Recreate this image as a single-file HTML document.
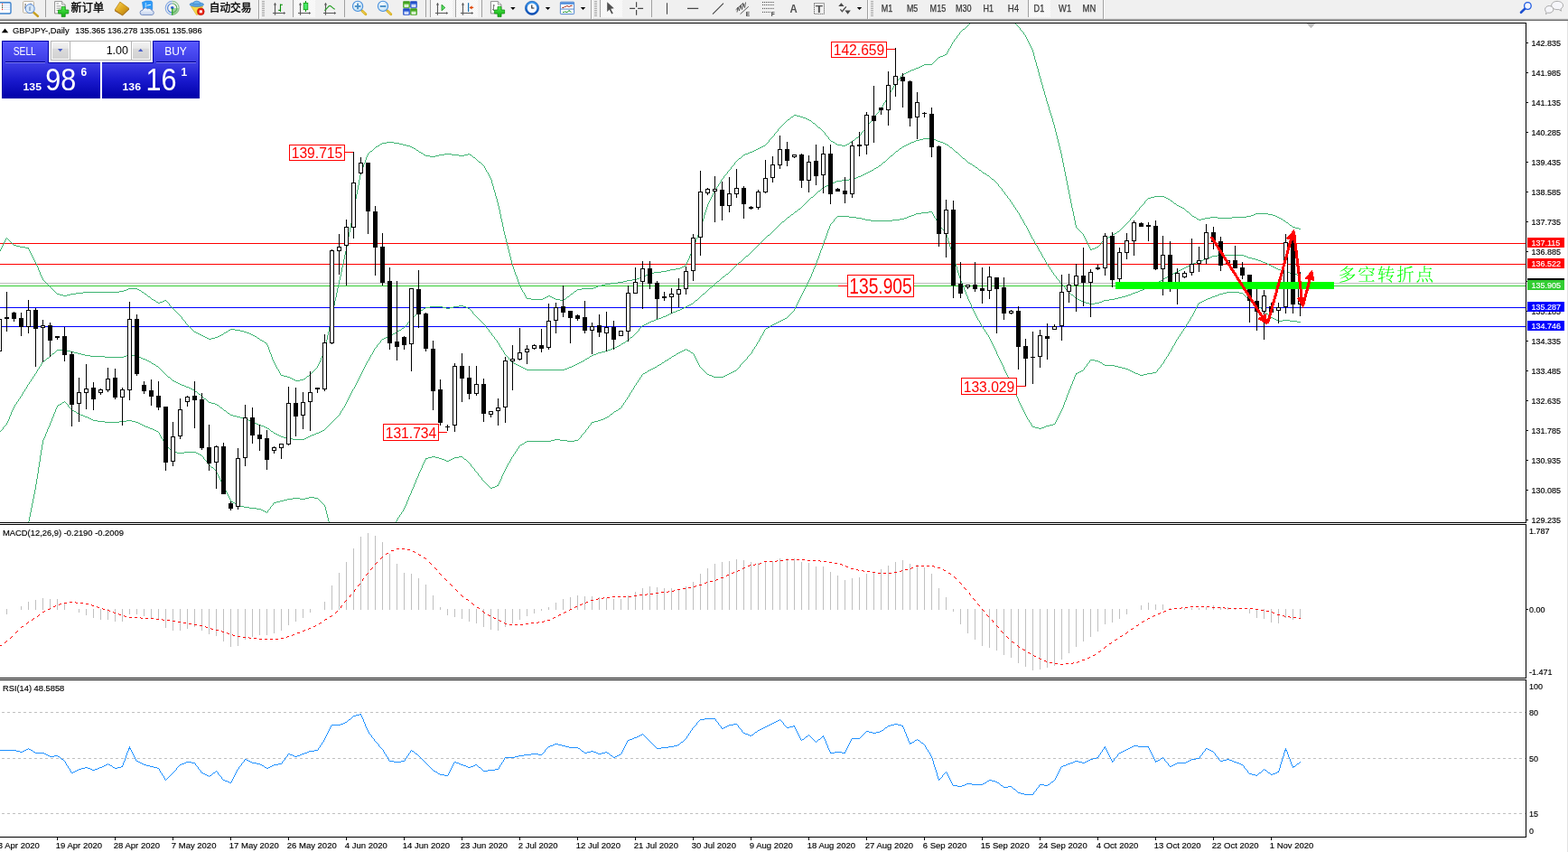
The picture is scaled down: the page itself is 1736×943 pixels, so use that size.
<!DOCTYPE html>
<html><head><meta charset="utf-8"><title>GBPJPY Daily</title>
<style>
html,body{margin:0;padding:0;background:#fff;overflow:hidden;width:1736px;height:943px}
svg{display:block;font-family:"Liberation Sans","Noto Sans CJK SC",sans-serif}
</style></head><body>
<svg width="1736" height="943" viewBox="0 0 1736 943">
<rect width="1736" height="943" fill="#fff"/>
<g shape-rendering="crispEdges"><clipPath id="c1"><rect x="0" y="26" width="1689" height="552"/></clipPath><clipPath id="c2"><rect x="0" y="581" width="1689" height="169"/></clipPath><clipPath id="c3"><rect x="0" y="753" width="1689" height="173"/></clipPath><g clip-path="url(#c1)"><rect x="0" y="313" width="1689" height="1" fill="#C0C0C0"/><rect x="0" y="316" width="1689" height="1" fill="#32CD32"/><rect x="0" y="269" width="1689" height="1" fill="#FF0000"/><rect x="0" y="292" width="1689" height="1" fill="#FF0000"/><rect x="0" y="340" width="1689" height="1" fill="#0000FF"/><rect x="0" y="361" width="1689" height="1" fill="#0000FF"/><path d="M-1 278h1v1h-1zM0 276h1v2h-1zM1 274h1v2h-1zM2 272h1v2h-1zM3 270h1v2h-1zM4 268h1v2h-1zM5 266h1v2h-1zM6 264h1v2h-1zM7 263h1v1h-1zM8 264h1v1h-1zM9 265h1v1h-1zM10 266h1v1h-1zM11 267h1v1h-1zM12 268h1v1h-1zM13 269h1v1h-1zM14 270h1v1h-1zM15 271h3v1h-3zM18 272h4v1h-4zM22 273h6v1h-6zM28 274h4v1h-4zM31 275h1v1h-1zM32 276h1v2h-1zM33 278h1v2h-1zM34 280h1v2h-1zM35 282h1v2h-1zM36 284h1v2h-1zM37 286h1v2h-1zM38 288h1v2h-1zM39 290h1v2h-1zM40 292h1v2h-1zM41 294h1v2h-1zM42 296h1v3h-1zM43 299h1v2h-1zM44 301h1v3h-1zM45 304h1v2h-1zM46 306h1v2h-1zM47 308h1v2h-1zM48 310h1v1h-1zM49 311h1v1h-1zM50 312h1v1h-1zM51 313h1v1h-1zM52 314h1v1h-1zM53 315h1v1h-1zM54 316h1v1h-1zM55 317h1v1h-1zM56 318h1v1h-1zM57 319h1v1h-1zM58 320h1v1h-1zM59 321h1v1h-1zM60 322h1v1h-1zM61 323h1v1h-1zM62 324h1v1h-1zM63 325h3v1h-3zM66 326h4v1h-4zM70 327h4v1h-4zM74 326h4v1h-4zM78 325h6v1h-6zM84 324h8v1h-8zM92 323h40v1h-40zM132 322h5v1h-5zM137 321h3v1h-3zM140 320h2v1h-2zM142 319h10v1h-10zM152 320h2v1h-2zM154 321h2v1h-2zM156 322h1v1h-1zM157 323h2v1h-2zM159 324h1v1h-1zM160 325h2v1h-2zM162 326h1v1h-1zM163 327h1v1h-1zM164 328h2v1h-2zM166 329h1v1h-1zM167 330h1v1h-1zM168 331h2v1h-2zM170 332h2v1h-2zM172 333h1v1h-1zM173 334h2v1h-2zM175 335h2v1h-2zM177 334h3v1h-3zM180 333h2v1h-2zM182 332h2v1h-2zM184 333h1v1h-1zM185 334h1v1h-1zM186 335h1v1h-1zM187 336h1v2h-1zM188 338h1v1h-1zM189 339h1v1h-1zM190 340h1v1h-1zM191 341h1v1h-1zM192 342h1v1h-1zM193 343h1v1h-1zM194 344h1v1h-1zM195 345h1v1h-1zM196 346h1v1h-1zM197 347h1v1h-1zM198 348h1v1h-1zM199 349h1v1h-1zM200 350h1v1h-1zM201 351h1v2h-1zM202 353h1v1h-1zM203 354h1v1h-1zM204 355h1v1h-1zM205 356h1v2h-1zM206 358h1v1h-1zM207 359h1v1h-1zM208 360h1v1h-1zM209 361h1v1h-1zM210 362h1v1h-1zM211 363h1v1h-1zM212 364h1v1h-1zM213 365h1v1h-1zM214 366h1v1h-1zM215 367h2v1h-2zM217 368h2v1h-2zM219 369h2v1h-2zM221 370h2v1h-2zM223 371h2v1h-2zM225 372h2v1h-2zM227 373h2v1h-2zM229 374h2v1h-2zM231 375h3v1h-3zM234 374h4v1h-4zM238 373h3v1h-3zM241 372h2v1h-2zM243 371h2v1h-2zM245 370h2v1h-2zM247 369h1v1h-1zM248 368h2v1h-2zM250 367h2v1h-2zM252 366h1v1h-1zM253 365h2v1h-2zM255 364h5v1h-5zM260 365h6v1h-6zM266 366h4v1h-4zM270 367h3v1h-3zM273 368h3v1h-3zM276 369h2v1h-2zM278 370h2v1h-2zM280 371h2v1h-2zM282 372h2v1h-2zM284 373h1v1h-1zM285 374h2v1h-2zM287 375h1v1h-1zM288 376h2v1h-2zM290 377h2v1h-2zM292 378h1v1h-1zM293 379h2v1h-2zM295 380h1v2h-1zM296 382h1v2h-1zM297 384h1v3h-1zM298 387h1v3h-1zM299 390h1v2h-1zM300 392h1v3h-1zM301 395h1v3h-1zM302 398h1v2h-1zM303 400h1v2h-1zM304 402h1v2h-1zM305 404h1v2h-1zM306 406h1v2h-1zM307 408h1v1h-1zM308 409h1v2h-1zM309 411h1v2h-1zM310 413h1v2h-1zM311 415h3v1h-3zM314 416h4v1h-4zM318 417h3v1h-3zM321 418h2v1h-2zM323 419h2v1h-2zM325 420h2v1h-2zM327 421h5v1h-5zM332 420h4v1h-4zM336 419h2v1h-2zM338 418h1v1h-1zM339 417h1v1h-1zM340 416h2v1h-2zM342 415h1v1h-1zM343 414h1v1h-1zM344 413h1v1h-1zM345 412h1v1h-1zM346 411h1v1h-1zM347 410h1v1h-1zM348 409h1v1h-1zM349 408h1v1h-1zM350 407h1v1h-1zM351 405h1v2h-1zM352 403h1v2h-1zM353 401h1v2h-1zM354 399h1v2h-1zM355 396h1v3h-1zM356 394h1v2h-1zM357 392h1v2h-1zM358 390h1v2h-1zM359 386h1v4h-1zM360 381h1v5h-1zM361 376h1v5h-1zM362 371h1v5h-1zM363 367h1v4h-1zM364 362h1v5h-1zM365 357h1v5h-1zM366 352h1v5h-1zM367 347h1v5h-1zM368 343h1v4h-1zM369 338h1v5h-1zM370 333h1v5h-1zM371 329h1v4h-1zM372 324h1v5h-1zM373 319h1v5h-1zM374 315h1v4h-1zM375 310h1v5h-1zM376 306h1v4h-1zM377 301h1v5h-1zM378 296h1v5h-1zM379 292h1v4h-1zM380 287h1v5h-1zM381 282h1v5h-1zM382 278h1v4h-1zM383 273h1v5h-1zM384 268h1v5h-1zM385 262h1v6h-1zM386 257h1v5h-1zM387 252h1v5h-1zM388 247h1v5h-1zM389 241h1v6h-1zM390 236h1v5h-1zM391 231h1v5h-1zM392 226h1v5h-1zM393 220h1v6h-1zM394 215h1v5h-1zM395 210h1v5h-1zM396 205h1v5h-1zM397 199h1v6h-1zM398 194h1v5h-1zM399 190h1v4h-1zM400 188h1v2h-1zM401 185h1v3h-1zM402 182h1v3h-1zM403 180h1v2h-1zM404 177h1v3h-1zM405 174h1v3h-1zM406 172h1v2h-1zM407 170h1v2h-1zM408 169h1v1h-1zM409 168h1v1h-1zM410 167h2v1h-2zM412 166h1v1h-1zM413 165h1v1h-1zM414 164h1v1h-1zM415 163h1v1h-1zM416 162h2v1h-2zM418 161h2v1h-2zM420 160h1v1h-1zM421 159h2v1h-2zM423 158h5v1h-5zM428 157h8v1h-8zM436 158h6v1h-6zM442 159h4v1h-4zM446 160h4v1h-4zM450 161h4v1h-4zM454 162h2v1h-2zM456 163h2v1h-2zM458 164h2v1h-2zM460 165h1v1h-1zM461 166h2v1h-2zM463 167h1v1h-1zM464 168h2v1h-2zM466 169h2v1h-2zM468 170h1v1h-1zM469 171h2v1h-2zM471 172h5v1h-5zM476 173h6v1h-6zM482 172h4v1h-4zM486 171h6v1h-6zM492 170h8v1h-8zM500 171h8v1h-8zM508 172h6v1h-6zM514 171h4v1h-4zM518 170h2v1h-2zM520 171h2v1h-2zM522 172h1v1h-1zM523 173h1v1h-1zM524 174h2v1h-2zM526 175h1v1h-1zM527 176h1v1h-1zM528 177h1v1h-1zM529 178h1v1h-1zM530 179h2v1h-2zM532 180h1v1h-1zM533 181h1v1h-1zM534 182h1v1h-1zM535 183h1v1h-1zM536 184h1v2h-1zM537 186h1v2h-1zM538 188h1v2h-1zM539 190h1v1h-1zM540 191h1v2h-1zM541 193h1v2h-1zM542 195h1v2h-1zM543 197h1v2h-1zM544 199h1v4h-1zM545 203h1v3h-1zM546 206h1v4h-1zM547 210h1v3h-1zM548 213h1v4h-1zM549 217h1v3h-1zM550 220h1v4h-1zM551 224h1v4h-1zM552 228h1v4h-1zM553 232h1v5h-1zM554 237h1v5h-1zM555 242h1v4h-1zM556 246h1v5h-1zM557 251h1v5h-1zM558 256h1v4h-1zM559 260h1v4h-1zM560 264h1v4h-1zM561 268h1v4h-1zM562 272h1v4h-1zM563 276h1v4h-1zM564 280h1v4h-1zM565 284h1v4h-1zM566 288h1v4h-1zM567 292h1v3h-1zM568 295h1v3h-1zM569 298h1v3h-1zM570 301h1v3h-1zM571 304h1v2h-1zM572 306h1v3h-1zM573 309h1v3h-1zM574 312h1v3h-1zM575 315h1v2h-1zM576 317h1v2h-1zM577 319h1v2h-1zM578 321h1v2h-1zM579 323h1v1h-1zM580 324h1v2h-1zM581 326h1v2h-1zM582 328h1v2h-1zM583 330h5v1h-5zM588 331h13v1h-13zM601 330h2v1h-2zM603 329h2v1h-2zM605 328h2v1h-2zM607 327h2v1h-2zM609 328h2v1h-2zM611 329h2v1h-2zM613 330h2v1h-2zM615 331h5v1h-5zM620 332h4v1h-4zM624 331h2v1h-2zM626 330h1v1h-1zM627 329h1v1h-1zM628 328h2v1h-2zM630 327h1v1h-1zM631 326h1v1h-1zM632 325h2v1h-2zM634 324h1v1h-1zM635 323h1v1h-1zM636 322h2v1h-2zM638 321h1v1h-1zM639 320h5v1h-5zM644 319h13v1h-13zM657 318h3v1h-3zM660 317h2v1h-2zM662 316h4v1h-4zM666 315h4v1h-4zM670 314h6v1h-6zM676 313h8v1h-8zM684 312h6v1h-6zM690 311h4v1h-4zM694 310h6v1h-6zM700 309h5v1h-5zM705 308h3v1h-3zM708 307h2v1h-2zM710 306h3v1h-3zM713 305h2v1h-2zM715 304h2v1h-2zM717 303h2v1h-2zM719 302h5v1h-5zM724 301h8v1h-8zM732 300h6v1h-6zM738 299h4v1h-4zM742 298h6v1h-6zM748 297h5v1h-5zM753 296h2v1h-2zM755 295h2v1h-2zM757 294h2v1h-2zM759 292h1v2h-1zM760 290h1v2h-1zM761 288h1v2h-1zM762 286h1v2h-1zM763 283h1v3h-1zM764 281h1v2h-1zM765 279h1v2h-1zM766 277h1v2h-1zM767 274h1v3h-1zM768 271h1v3h-1zM769 268h1v3h-1zM770 265h1v3h-1zM771 263h1v2h-1zM772 260h1v3h-1zM773 257h1v3h-1zM774 254h1v3h-1zM775 251h1v3h-1zM776 248h1v3h-1zM777 245h1v3h-1zM778 242h1v3h-1zM779 238h1v4h-1zM780 235h1v3h-1zM781 232h1v3h-1zM782 229h1v3h-1zM783 226h1v3h-1zM784 224h1v2h-1zM785 222h1v2h-1zM786 220h1v2h-1zM787 218h1v2h-1zM788 216h1v2h-1zM789 214h1v2h-1zM790 212h1v2h-1zM791 211h1v1h-1zM792 209h1v2h-1zM793 207h1v2h-1zM794 206h1v1h-1zM795 204h1v2h-1zM796 203h1v1h-1zM797 201h1v2h-1zM798 199h1v2h-1zM799 198h1v1h-1zM800 197h1v1h-1zM801 195h1v2h-1zM802 194h1v1h-1zM803 193h1v1h-1zM804 192h1v1h-1zM805 190h1v2h-1zM806 189h1v1h-1zM807 188h1v1h-1zM808 187h1v1h-1zM809 185h1v2h-1zM810 184h1v1h-1zM811 183h1v1h-1zM812 182h1v1h-1zM813 180h1v2h-1zM814 179h1v1h-1zM815 178h1v1h-1zM816 177h1v1h-1zM817 176h1v1h-1zM818 175h2v1h-2zM820 174h1v1h-1zM821 173h1v1h-1zM822 172h1v1h-1zM823 171h2v1h-2zM825 170h3v1h-3zM828 169h2v1h-2zM830 168h3v1h-3zM833 167h2v1h-2zM835 166h2v1h-2zM837 165h2v1h-2zM839 164h2v1h-2zM841 163h2v1h-2zM843 162h2v1h-2zM845 161h2v1h-2zM847 160h1v1h-1zM848 159h1v1h-1zM849 158h1v1h-1zM850 157h1v1h-1zM851 155h1v2h-1zM852 154h1v1h-1zM853 153h1v1h-1zM854 152h1v1h-1zM855 151h1v1h-1zM856 150h1v1h-1zM857 148h1v2h-1zM858 147h1v1h-1zM859 146h1v1h-1zM860 145h1v1h-1zM861 143h1v2h-1zM862 142h1v1h-1zM863 141h1v1h-1zM864 140h1v1h-1zM865 139h1v1h-1zM866 138h1v1h-1zM867 137h1v1h-1zM868 136h1v1h-1zM869 135h1v1h-1zM870 134h1v1h-1zM871 133h1v1h-1zM872 132h2v1h-2zM874 131h1v1h-1zM875 130h1v1h-1zM876 129h2v1h-2zM878 128h1v1h-1zM879 127h3v1h-3zM882 128h4v1h-4zM886 129h3v1h-3zM889 130h3v1h-3zM892 131h2v1h-2zM894 132h2v1h-2zM896 133h2v1h-2zM898 134h1v1h-1zM899 135h1v1h-1zM900 136h2v1h-2zM902 137h1v1h-1zM903 138h1v1h-1zM904 139h1v1h-1zM905 140h1v1h-1zM906 141h2v1h-2zM908 142h1v1h-1zM909 143h1v1h-1zM910 144h1v1h-1zM911 145h1v1h-1zM912 146h1v1h-1zM913 147h1v2h-1zM914 149h1v1h-1zM915 150h1v1h-1zM916 151h1v1h-1zM917 152h1v2h-1zM918 154h1v1h-1zM919 155h1v1h-1zM920 156h2v1h-2zM922 157h2v1h-2zM924 158h1v1h-1zM925 159h2v1h-2zM927 160h5v1h-5zM932 161h4v1h-4zM936 160h2v1h-2zM938 159h2v1h-2zM940 158h1v1h-1zM941 157h2v1h-2zM943 156h1v1h-1zM944 155h2v1h-2zM946 154h1v1h-1zM947 153h1v1h-1zM948 152h2v1h-2zM950 151h1v1h-1zM951 150h1v1h-1zM952 149h1v1h-1zM953 147h1v2h-1zM954 146h1v1h-1zM955 145h1v1h-1zM956 144h1v1h-1zM957 142h1v2h-1zM958 141h1v1h-1zM959 140h1v1h-1zM960 139h1v1h-1zM961 137h1v2h-1zM962 136h1v1h-1zM963 135h1v1h-1zM964 134h1v1h-1zM965 132h1v2h-1zM966 131h1v1h-1zM967 130h1v1h-1zM968 129h1v1h-1zM969 127h1v2h-1zM970 126h1v1h-1zM971 125h1v1h-1zM972 124h1v1h-1zM973 122h1v2h-1zM974 121h1v1h-1zM975 120h1v1h-1zM976 118h1v2h-1zM977 116h1v2h-1zM978 114h1v2h-1zM979 113h1v1h-1zM980 111h1v2h-1zM981 109h1v2h-1zM982 107h1v2h-1zM983 106h1v1h-1zM984 104h1v2h-1zM985 102h1v2h-1zM986 100h1v2h-1zM987 99h1v1h-1zM988 97h1v2h-1zM989 95h1v2h-1zM990 93h1v2h-1zM991 92h1v1h-1zM992 91h1v1h-1zM993 89h1v2h-1zM994 88h1v1h-1zM995 87h1v1h-1zM996 86h1v1h-1zM997 84h1v2h-1zM998 83h1v1h-1zM999 82h2v1h-2zM1001 81h2v1h-2zM1003 80h2v1h-2zM1005 79h2v1h-2zM1007 78h2v1h-2zM1009 77h3v1h-3zM1012 76h2v1h-2zM1014 75h3v1h-3zM1017 74h2v1h-2zM1019 73h2v1h-2zM1021 72h2v1h-2zM1023 71h9v1h-9zM1032 70h1v1h-1zM1033 69h1v1h-1zM1034 68h1v1h-1zM1035 67h1v1h-1zM1036 66h1v1h-1zM1037 65h1v1h-1zM1038 64h1v1h-1zM1039 63h2v1h-2zM1041 62h3v1h-3zM1044 61h2v1h-2zM1046 60h2v1h-2zM1048 58h1v2h-1zM1049 56h1v2h-1zM1050 54h1v2h-1zM1051 53h1v1h-1zM1052 51h1v2h-1zM1053 49h1v2h-1zM1054 47h1v2h-1zM1055 46h1v1h-1zM1056 44h1v2h-1zM1057 43h1v1h-1zM1058 42h1v1h-1zM1059 40h1v2h-1zM1060 39h1v1h-1zM1061 38h1v1h-1zM1062 36h1v2h-1zM1063 35h1v1h-1zM1064 34h1v1h-1zM1065 33h1v1h-1zM1066 32h2v1h-2zM1068 31h1v1h-1zM1069 30h1v1h-1zM1070 29h1v1h-1zM1071 28h1v1h-1zM1072 27h1v1h-1zM1073 26h1v1h-1zM1074 25h2v1h-2zM1076 24h1v1h-1zM1077 23h1v1h-1zM1078 22h1v1h-1zM1079 21h1v1h-1zM1080 20h1v1h-1zM1118 20h1v1h-1zM1119 21h1v1h-1zM1120 22h1v1h-1zM1121 23h1v1h-1zM1122 24h1v1h-1zM1123 25h1v1h-1zM1124 26h1v1h-1zM1125 27h1v1h-1zM1126 28h1v1h-1zM1127 29h1v1h-1zM1128 30h1v1h-1zM1129 31h1v2h-1zM1130 33h1v1h-1zM1131 34h1v1h-1zM1132 35h1v1h-1zM1133 36h1v2h-1zM1134 38h1v1h-1zM1135 39h1v2h-1zM1136 41h1v2h-1zM1137 43h1v2h-1zM1138 45h1v2h-1zM1139 47h1v2h-1zM1140 49h1v2h-1zM1141 51h1v2h-1zM1142 53h1v2h-1zM1143 55h1v3h-1zM1144 58h1v4h-1zM1145 62h1v4h-1zM1146 66h1v3h-1zM1147 69h1v4h-1zM1148 73h1v3h-1zM1149 76h1v4h-1zM1150 80h1v4h-1zM1151 84h1v3h-1zM1152 87h1v4h-1zM1153 91h1v3h-1zM1154 94h1v4h-1zM1155 98h1v3h-1zM1156 101h1v4h-1zM1157 105h1v3h-1zM1158 108h1v4h-1zM1159 112h1v3h-1zM1160 115h1v3h-1zM1161 118h1v4h-1zM1162 122h1v3h-1zM1163 125h1v3h-1zM1164 128h1v3h-1zM1165 131h1v4h-1zM1166 135h1v3h-1zM1167 138h1v4h-1zM1168 142h1v4h-1zM1169 146h1v4h-1zM1170 150h1v4h-1zM1171 154h1v4h-1zM1172 158h1v4h-1zM1173 162h1v4h-1zM1174 166h1v4h-1zM1175 170h1v5h-1zM1176 175h1v5h-1zM1177 180h1v5h-1zM1178 185h1v5h-1zM1179 190h1v5h-1zM1180 195h1v5h-1zM1181 200h1v5h-1zM1182 205h1v5h-1zM1183 210h1v5h-1zM1184 215h1v5h-1zM1185 220h1v5h-1zM1186 225h1v5h-1zM1187 230h1v4h-1zM1188 234h1v5h-1zM1189 239h1v5h-1zM1190 244h1v5h-1zM1191 249h1v3h-1zM1192 252h1v1h-1zM1193 253h1v1h-1zM1194 254h1v1h-1zM1195 255h1v1h-1zM1196 256h1v1h-1zM1197 257h1v1h-1zM1198 258h1v1h-1zM1199 259h1v2h-1zM1200 261h1v2h-1zM1201 263h1v2h-1zM1202 265h1v2h-1zM1203 267h1v2h-1zM1204 269h1v2h-1zM1205 271h1v2h-1zM1206 273h1v2h-1zM1207 275h1v2h-1zM1208 276h1v1h-1zM1209 275h3v1h-3zM1212 274h2v1h-2zM1214 273h2v1h-2zM1216 272h1v1h-1zM1217 271h1v1h-1zM1218 270h1v1h-1zM1219 268h1v2h-1zM1220 267h1v1h-1zM1221 266h1v1h-1zM1222 265h1v1h-1zM1223 264h2v1h-2zM1225 263h2v1h-2zM1227 262h2v1h-2zM1229 261h2v1h-2zM1231 260h1v1h-1zM1232 259h2v1h-2zM1234 258h2v1h-2zM1236 257h1v1h-1zM1237 256h2v1h-2zM1239 255h1v1h-1zM1240 254h1v1h-1zM1241 253h1v1h-1zM1242 252h1v1h-1zM1243 251h1v1h-1zM1244 250h1v1h-1zM1245 249h1v1h-1zM1246 248h1v1h-1zM1247 247h1v1h-1zM1248 246h1v1h-1zM1249 245h1v1h-1zM1250 244h1v1h-1zM1251 242h1v2h-1zM1252 241h1v1h-1zM1253 240h1v1h-1zM1254 239h1v1h-1zM1255 238h1v1h-1zM1256 237h1v1h-1zM1257 235h1v2h-1zM1258 234h1v1h-1zM1259 233h1v1h-1zM1260 232h1v1h-1zM1261 230h1v2h-1zM1262 229h1v1h-1zM1263 228h1v1h-1zM1264 227h1v1h-1zM1265 226h1v1h-1zM1266 225h1v1h-1zM1267 223h1v2h-1zM1268 222h1v1h-1zM1269 221h1v1h-1zM1270 220h1v1h-1zM1271 219h3v1h-3zM1274 218h4v1h-4zM1278 217h11v1h-11zM1289 218h2v1h-2zM1291 219h2v1h-2zM1293 220h2v1h-2zM1295 221h1v1h-1zM1296 222h2v1h-2zM1298 223h1v1h-1zM1299 224h1v1h-1zM1300 225h2v1h-2zM1302 226h1v1h-1zM1303 227h2v1h-2zM1305 228h2v1h-2zM1307 229h2v1h-2zM1309 230h2v1h-2zM1311 231h1v1h-1zM1312 232h1v1h-1zM1313 233h1v1h-1zM1314 234h2v1h-2zM1316 235h1v1h-1zM1317 236h1v1h-1zM1318 237h1v1h-1zM1319 238h1v1h-1zM1320 239h2v1h-2zM1322 240h2v1h-2zM1324 241h1v1h-1zM1325 242h2v1h-2zM1327 243h3v1h-3zM1330 242h4v1h-4zM1334 241h6v1h-6zM1340 240h8v1h-8zM1348 241h16v1h-16zM1364 240h16v1h-16zM1380 239h5v1h-5zM1385 238h3v1h-3zM1388 237h2v1h-2zM1390 236h14v1h-14zM1404 237h5v1h-5zM1409 238h3v1h-3zM1412 239h2v1h-2zM1414 240h2v1h-2zM1416 241h2v1h-2zM1418 242h2v1h-2zM1420 243h1v1h-1zM1421 244h2v1h-2zM1423 245h1v1h-1zM1424 246h2v1h-2zM1426 247h1v1h-1zM1427 248h1v1h-1zM1428 249h2v1h-2zM1430 250h1v1h-1zM1431 251h3v1h-3zM1434 252h4v1h-4zM1438 253h2v1h-2z" fill="#3CB371"/><path d="M-1 478h1v1h-1zM0 477h1v1h-1zM1 476h1v1h-1zM2 475h1v1h-1zM3 473h1v2h-1zM4 472h1v1h-1zM5 471h1v1h-1zM6 470h1v1h-1zM7 468h1v2h-1zM8 466h1v2h-1zM9 464h1v2h-1zM10 461h1v3h-1zM11 459h1v2h-1zM12 456h1v3h-1zM13 454h1v2h-1zM14 452h1v2h-1zM15 450h1v2h-1zM16 448h1v2h-1zM17 447h1v1h-1zM18 445h1v2h-1zM19 444h1v1h-1zM20 442h1v2h-1zM21 441h1v1h-1zM22 439h1v2h-1zM23 438h1v1h-1zM24 436h1v2h-1zM25 434h1v2h-1zM26 433h1v1h-1zM27 431h1v2h-1zM28 430h1v1h-1zM29 428h1v2h-1zM30 426h1v2h-1zM31 425h1v1h-1zM32 423h1v2h-1zM33 422h1v1h-1zM34 420h1v2h-1zM35 419h1v1h-1zM36 417h1v2h-1zM37 416h1v1h-1zM38 414h1v2h-1zM39 413h1v1h-1zM40 411h1v2h-1zM41 409h1v2h-1zM42 408h1v1h-1zM43 406h1v2h-1zM44 405h1v1h-1zM45 403h1v2h-1zM46 401h1v2h-1zM47 400h1v1h-1zM48 399h2v1h-2zM50 398h1v1h-1zM51 397h1v1h-1zM52 396h2v1h-2zM54 395h1v1h-1zM55 394h1v1h-1zM56 393h1v1h-1zM57 392h1v1h-1zM58 391h2v1h-2zM60 390h1v1h-1zM61 389h1v1h-1zM62 388h1v1h-1zM63 387h11v1h-11zM74 388h4v1h-4zM78 389h4v1h-4zM82 390h4v1h-4zM86 391h4v1h-4zM90 392h4v1h-4zM94 393h6v1h-6zM100 394h16v1h-16zM116 395h21v1h-21zM137 394h3v1h-3zM140 393h2v1h-2zM142 392h4v1h-4zM146 393h4v1h-4zM150 394h3v1h-3zM153 395h3v1h-3zM156 396h2v1h-2zM158 397h3v1h-3zM161 398h2v1h-2zM163 399h2v1h-2zM165 400h2v1h-2zM167 401h1v1h-1zM168 402h2v1h-2zM170 403h2v1h-2zM172 404h1v1h-1zM173 405h2v1h-2zM175 406h1v1h-1zM176 407h1v1h-1zM177 408h1v1h-1zM178 409h1v1h-1zM179 410h1v1h-1zM180 411h1v1h-1zM181 412h1v1h-1zM182 413h1v1h-1zM183 414h1v1h-1zM184 415h1v1h-1zM185 416h1v1h-1zM186 417h2v1h-2zM188 418h1v1h-1zM189 419h1v1h-1zM190 420h1v1h-1zM191 421h2v1h-2zM193 422h2v1h-2zM195 423h2v1h-2zM197 424h2v1h-2zM199 425h2v1h-2zM201 426h3v1h-3zM204 427h2v1h-2zM206 428h3v1h-3zM209 429h2v1h-2zM211 430h2v1h-2zM213 431h2v1h-2zM215 432h1v1h-1zM216 433h2v1h-2zM218 434h1v1h-1zM219 435h1v1h-1zM220 436h2v1h-2zM222 437h1v1h-1zM223 438h1v1h-1zM224 439h1v1h-1zM225 440h1v1h-1zM226 441h2v1h-2zM228 442h1v1h-1zM229 443h1v1h-1zM230 444h1v1h-1zM231 445h3v1h-3zM234 446h4v1h-4zM238 447h2v1h-2zM240 448h2v1h-2zM242 449h1v1h-1zM243 450h1v1h-1zM244 451h2v1h-2zM246 452h1v1h-1zM247 453h1v1h-1zM248 454h2v1h-2zM250 455h1v1h-1zM251 456h1v1h-1zM252 457h2v1h-2zM254 458h1v1h-1zM255 459h3v1h-3zM258 460h4v1h-4zM262 461h4v1h-4zM266 462h4v1h-4zM270 463h3v1h-3zM273 464h2v1h-2zM275 465h2v1h-2zM277 466h2v1h-2zM279 467h2v1h-2zM281 468h3v1h-3zM284 469h2v1h-2zM286 470h3v1h-3zM289 471h3v1h-3zM292 472h2v1h-2zM294 473h2v1h-2zM296 474h2v1h-2zM298 475h1v1h-1zM299 476h1v1h-1zM300 477h2v1h-2zM302 478h1v1h-1zM303 479h2v1h-2zM305 480h2v1h-2zM307 481h2v1h-2zM309 482h2v1h-2zM311 483h3v1h-3zM314 484h4v1h-4zM318 485h6v1h-6zM324 486h13v1h-13zM337 485h2v1h-2zM339 484h2v1h-2zM341 483h2v1h-2zM343 482h2v1h-2zM345 481h3v1h-3zM348 480h2v1h-2zM350 479h3v1h-3zM353 478h2v1h-2zM355 477h2v1h-2zM357 476h2v1h-2zM359 475h1v1h-1zM360 474h1v1h-1zM361 473h1v1h-1zM362 472h1v1h-1zM363 471h1v1h-1zM364 470h1v1h-1zM365 469h1v1h-1zM366 468h1v1h-1zM367 467h1v1h-1zM368 466h1v1h-1zM369 465h1v1h-1zM370 464h1v1h-1zM371 463h1v1h-1zM372 462h1v1h-1zM373 461h1v1h-1zM374 460h1v1h-1zM375 459h1v1h-1zM376 457h1v2h-1zM377 455h1v2h-1zM378 454h1v1h-1zM379 452h1v2h-1zM380 451h1v1h-1zM381 449h1v2h-1zM382 447h1v2h-1zM383 445h1v2h-1zM384 443h1v2h-1zM385 441h1v2h-1zM386 439h1v2h-1zM387 437h1v2h-1zM388 435h1v2h-1zM389 433h1v2h-1zM390 431h1v2h-1zM391 430h1v1h-1zM392 428h1v2h-1zM393 426h1v2h-1zM394 424h1v2h-1zM395 422h1v2h-1zM396 420h1v2h-1zM397 418h1v2h-1zM398 416h1v2h-1zM399 414h1v2h-1zM400 412h1v2h-1zM401 410h1v2h-1zM402 408h1v2h-1zM403 406h1v2h-1zM404 404h1v2h-1zM405 402h1v2h-1zM406 400h1v2h-1zM407 399h1v1h-1zM408 397h1v2h-1zM409 395h1v2h-1zM410 393h1v2h-1zM411 392h1v1h-1zM412 390h1v2h-1zM413 388h1v2h-1zM414 386h1v2h-1zM415 385h1v1h-1zM416 384h1v1h-1zM417 382h1v2h-1zM418 381h1v1h-1zM419 380h1v1h-1zM420 379h1v1h-1zM421 377h1v2h-1zM422 376h1v1h-1zM423 375h2v1h-2zM425 374h2v1h-2zM427 373h2v1h-2zM429 372h2v1h-2zM431 371h2v1h-2zM433 370h2v1h-2zM435 369h2v1h-2zM437 368h2v1h-2zM439 367h1v1h-1zM440 366h2v1h-2zM442 365h2v1h-2zM444 364h1v1h-1zM445 363h2v1h-2zM447 362h1v1h-1zM448 361h1v1h-1zM449 360h1v1h-1zM450 359h1v1h-1zM451 357h1v2h-1zM452 356h1v1h-1zM453 355h1v1h-1zM454 354h1v1h-1zM455 353h1v1h-1zM456 352h1v1h-1zM457 351h1v1h-1zM458 350h1v1h-1zM459 349h1v1h-1zM460 348h1v1h-1zM461 347h1v1h-1zM462 346h1v1h-1zM463 345h1v1h-1zM464 344h2v1h-2zM466 343h2v1h-2zM468 342h1v1h-1zM469 341h2v1h-2zM471 340h5v1h-5zM476 339h14v1h-14zM490 340h4v1h-4zM494 341h4v1h-4zM498 340h4v1h-4zM502 339h6v1h-6zM508 338h5v1h-5zM513 339h3v1h-3zM516 340h2v1h-2zM518 341h2v1h-2zM520 342h1v1h-1zM521 343h1v1h-1zM522 344h1v1h-1zM523 345h1v2h-1zM524 347h1v1h-1zM525 348h1v1h-1zM526 349h1v1h-1zM527 350h1v1h-1zM528 351h1v1h-1zM529 352h1v1h-1zM530 353h1v1h-1zM531 354h1v1h-1zM532 355h1v1h-1zM533 356h1v1h-1zM534 357h1v1h-1zM535 358h1v1h-1zM536 359h1v1h-1zM537 360h1v2h-1zM538 362h1v1h-1zM539 363h1v1h-1zM540 364h1v1h-1zM541 365h1v2h-1zM542 367h1v1h-1zM543 368h1v1h-1zM544 369h1v2h-1zM545 371h1v1h-1zM546 372h1v1h-1zM547 373h1v2h-1zM548 375h1v1h-1zM549 376h1v1h-1zM550 377h1v2h-1zM551 379h1v1h-1zM552 380h1v2h-1zM553 382h1v2h-1zM554 384h1v1h-1zM555 385h1v2h-1zM556 387h1v1h-1zM557 388h1v2h-1zM558 390h1v2h-1zM559 392h1v1h-1zM560 393h1v1h-1zM561 394h1v1h-1zM562 395h1v1h-1zM563 396h1v2h-1zM564 398h1v1h-1zM565 399h1v1h-1zM566 400h1v1h-1zM567 401h2v1h-2zM569 402h2v1h-2zM571 403h2v1h-2zM573 404h2v1h-2zM575 405h2v1h-2zM577 406h2v1h-2zM579 407h2v1h-2zM581 408h2v1h-2zM583 409h42v1h-42zM625 408h3v1h-3zM628 407h2v1h-2zM630 406h3v1h-3zM633 405h2v1h-2zM635 404h2v1h-2zM637 403h2v1h-2zM639 402h2v1h-2zM641 401h2v1h-2zM643 400h2v1h-2zM645 399h2v1h-2zM647 398h1v1h-1zM648 397h2v1h-2zM650 396h2v1h-2zM652 395h1v1h-1zM653 394h2v1h-2zM655 393h2v1h-2zM657 392h3v1h-3zM660 391h2v1h-2zM662 390h4v1h-4zM666 389h4v1h-4zM670 388h3v1h-3zM673 387h3v1h-3zM676 386h2v1h-2zM678 385h3v1h-3zM681 384h2v1h-2zM683 383h2v1h-2zM685 382h2v1h-2zM687 381h1v1h-1zM688 380h2v1h-2zM690 379h2v1h-2zM692 378h1v1h-1zM693 377h2v1h-2zM695 376h1v1h-1zM696 375h1v1h-1zM697 374h1v1h-1zM698 373h2v1h-2zM700 372h1v1h-1zM701 371h1v1h-1zM702 370h1v1h-1zM703 369h1v1h-1zM704 368h1v1h-1zM705 367h1v1h-1zM706 366h1v1h-1zM707 364h1v2h-1zM708 363h1v1h-1zM709 362h1v1h-1zM710 361h1v1h-1zM711 360h2v1h-2zM713 359h2v1h-2zM715 358h2v1h-2zM717 357h2v1h-2zM719 356h2v1h-2zM721 355h3v1h-3zM724 354h2v1h-2zM726 353h3v1h-3zM729 352h3v1h-3zM732 351h2v1h-2zM734 350h3v1h-3zM737 349h2v1h-2zM739 348h2v1h-2zM741 347h2v1h-2zM743 346h2v1h-2zM745 345h3v1h-3zM748 344h2v1h-2zM750 343h3v1h-3zM753 342h2v1h-2zM755 341h2v1h-2zM757 340h2v1h-2zM759 339h2v1h-2zM761 338h2v1h-2zM763 337h2v1h-2zM765 336h2v1h-2zM767 335h1v1h-1zM768 334h1v1h-1zM769 333h1v1h-1zM770 332h2v1h-2zM772 331h1v1h-1zM773 330h1v1h-1zM774 329h1v1h-1zM775 328h1v1h-1zM776 327h1v1h-1zM777 326h1v1h-1zM778 325h2v1h-2zM780 324h1v1h-1zM781 323h1v1h-1zM782 322h1v1h-1zM783 321h1v1h-1zM784 320h1v1h-1zM785 319h1v1h-1zM786 318h2v1h-2zM788 317h1v1h-1zM789 316h1v1h-1zM790 315h1v1h-1zM791 314h1v1h-1zM792 313h1v1h-1zM793 312h1v1h-1zM794 311h2v1h-2zM796 310h1v1h-1zM797 309h1v1h-1zM798 308h1v1h-1zM799 307h1v1h-1zM800 306h2v1h-2zM802 305h1v1h-1zM803 304h1v1h-1zM804 303h2v1h-2zM806 302h1v1h-1zM807 301h1v1h-1zM808 300h1v1h-1zM809 299h1v1h-1zM810 298h1v1h-1zM811 297h1v1h-1zM812 296h1v1h-1zM813 295h1v1h-1zM814 294h1v1h-1zM815 293h1v1h-1zM816 292h1v1h-1zM817 291h1v1h-1zM818 290h2v1h-2zM820 289h1v1h-1zM821 288h1v1h-1zM822 287h1v1h-1zM823 286h1v1h-1zM824 285h1v1h-1zM825 284h1v1h-1zM826 283h2v1h-2zM828 282h1v1h-1zM829 281h1v1h-1zM830 280h1v1h-1zM831 279h1v1h-1zM832 278h1v1h-1zM833 277h1v1h-1zM834 276h1v1h-1zM835 275h1v1h-1zM836 274h1v1h-1zM837 273h1v1h-1zM838 272h1v1h-1zM839 271h1v1h-1zM840 270h1v1h-1zM841 269h1v1h-1zM842 268h1v1h-1zM843 267h1v1h-1zM844 266h1v1h-1zM845 265h1v1h-1zM846 264h1v1h-1zM847 263h1v1h-1zM848 262h1v1h-1zM849 261h1v1h-1zM850 260h2v1h-2zM852 259h1v1h-1zM853 258h1v1h-1zM854 257h1v1h-1zM855 256h1v1h-1zM856 255h1v1h-1zM857 254h1v1h-1zM858 253h1v1h-1zM859 252h1v1h-1zM860 251h1v1h-1zM861 250h1v1h-1zM862 249h1v1h-1zM863 248h1v1h-1zM864 247h1v1h-1zM865 246h1v1h-1zM866 245h2v1h-2zM868 244h1v1h-1zM869 243h1v1h-1zM870 242h1v1h-1zM871 241h1v1h-1zM872 240h2v1h-2zM874 239h1v1h-1zM875 238h1v1h-1zM876 237h2v1h-2zM878 236h1v1h-1zM879 235h1v1h-1zM880 234h2v1h-2zM882 233h1v1h-1zM883 232h1v1h-1zM884 231h2v1h-2zM886 230h1v1h-1zM887 229h1v1h-1zM888 228h1v1h-1zM889 227h1v1h-1zM890 226h1v1h-1zM891 225h1v1h-1zM892 224h1v1h-1zM893 223h1v1h-1zM894 222h1v1h-1zM895 221h1v1h-1zM896 220h1v1h-1zM897 219h1v1h-1zM898 218h2v1h-2zM900 217h1v1h-1zM901 216h1v1h-1zM902 215h1v1h-1zM903 214h1v1h-1zM904 213h1v1h-1zM905 212h1v1h-1zM906 211h2v1h-2zM908 210h1v1h-1zM909 209h1v1h-1zM910 208h1v1h-1zM911 207h2v1h-2zM913 206h2v1h-2zM915 205h2v1h-2zM917 204h2v1h-2zM919 203h2v1h-2zM921 202h3v1h-3zM924 201h2v1h-2zM926 200h6v1h-6zM932 199h8v1h-8zM940 198h5v1h-5zM945 197h3v1h-3zM948 196h2v1h-2zM950 195h3v1h-3zM953 194h2v1h-2zM955 193h2v1h-2zM957 192h2v1h-2zM959 191h2v1h-2zM961 190h2v1h-2zM963 189h2v1h-2zM965 188h2v1h-2zM967 187h1v1h-1zM968 186h2v1h-2zM970 185h2v1h-2zM972 184h1v1h-1zM973 183h2v1h-2zM975 182h1v1h-1zM976 181h1v1h-1zM977 180h1v1h-1zM978 179h2v1h-2zM980 178h1v1h-1zM981 177h1v1h-1zM982 176h1v1h-1zM983 175h1v1h-1zM984 174h1v1h-1zM985 173h1v1h-1zM986 172h2v1h-2zM988 171h1v1h-1zM989 170h1v1h-1zM990 169h1v1h-1zM991 168h1v1h-1zM992 167h2v1h-2zM994 166h1v1h-1zM995 165h1v1h-1zM996 164h2v1h-2zM998 163h1v1h-1zM999 162h2v1h-2zM1001 161h2v1h-2zM1003 160h2v1h-2zM1005 159h2v1h-2zM1007 158h2v1h-2zM1009 157h3v1h-3zM1012 156h2v1h-2zM1014 155h4v1h-4zM1018 154h4v1h-4zM1022 153h11v1h-11zM1033 154h3v1h-3zM1036 155h2v1h-2zM1038 156h3v1h-3zM1041 157h3v1h-3zM1044 158h2v1h-2zM1046 159h2v1h-2zM1048 160h2v1h-2zM1050 161h1v1h-1zM1051 162h1v1h-1zM1052 163h2v1h-2zM1054 164h1v1h-1zM1055 165h1v1h-1zM1056 166h1v1h-1zM1057 167h1v1h-1zM1058 168h2v1h-2zM1060 169h1v1h-1zM1061 170h1v1h-1zM1062 171h1v1h-1zM1063 172h1v1h-1zM1064 173h1v1h-1zM1065 174h1v1h-1zM1066 175h2v1h-2zM1068 176h1v1h-1zM1069 177h1v1h-1zM1070 178h1v1h-1zM1071 179h1v1h-1zM1072 180h2v1h-2zM1074 181h2v1h-2zM1076 182h1v1h-1zM1077 183h2v1h-2zM1079 184h1v1h-1zM1080 185h2v1h-2zM1082 186h1v1h-1zM1083 187h1v1h-1zM1084 188h2v1h-2zM1086 189h1v1h-1zM1087 190h1v1h-1zM1088 191h2v1h-2zM1090 192h2v1h-2zM1092 193h1v1h-1zM1093 194h2v1h-2zM1095 195h1v1h-1zM1096 196h1v1h-1zM1097 197h1v1h-1zM1098 198h2v1h-2zM1100 199h1v1h-1zM1101 200h1v1h-1zM1102 201h1v1h-1zM1103 202h1v1h-1zM1104 203h1v1h-1zM1105 204h1v2h-1zM1106 206h1v1h-1zM1107 207h1v1h-1zM1108 208h1v1h-1zM1109 209h1v2h-1zM1110 211h1v1h-1zM1111 212h1v1h-1zM1112 213h1v2h-1zM1113 215h1v1h-1zM1114 216h1v1h-1zM1115 217h1v2h-1zM1116 219h1v1h-1zM1117 220h1v1h-1zM1118 221h1v2h-1zM1119 223h1v1h-1zM1120 224h1v2h-1zM1121 226h1v1h-1zM1122 227h1v2h-1zM1123 229h1v1h-1zM1124 230h1v2h-1zM1125 232h1v1h-1zM1126 233h1v2h-1zM1127 235h1v1h-1zM1128 236h1v2h-1zM1129 238h1v2h-1zM1130 240h1v2h-1zM1131 242h1v1h-1zM1132 243h1v2h-1zM1133 245h1v2h-1zM1134 247h1v2h-1zM1135 249h1v1h-1zM1136 250h1v2h-1zM1137 252h1v2h-1zM1138 254h1v2h-1zM1139 256h1v2h-1zM1140 258h1v2h-1zM1141 260h1v2h-1zM1142 262h1v2h-1zM1143 264h1v1h-1zM1144 265h1v2h-1zM1145 267h1v2h-1zM1146 269h1v2h-1zM1147 271h1v1h-1zM1148 272h1v2h-1zM1149 274h1v2h-1zM1150 276h1v2h-1zM1151 278h1v1h-1zM1152 279h1v2h-1zM1153 281h1v2h-1zM1154 283h1v2h-1zM1155 285h1v1h-1zM1156 286h1v2h-1zM1157 288h1v2h-1zM1158 290h1v2h-1zM1159 292h1v1h-1zM1160 293h1v2h-1zM1161 295h1v1h-1zM1162 296h1v2h-1zM1163 298h1v1h-1zM1164 299h1v2h-1zM1165 301h1v1h-1zM1166 302h1v2h-1zM1167 304h1v1h-1zM1168 305h1v1h-1zM1169 306h1v2h-1zM1170 308h1v1h-1zM1171 309h1v1h-1zM1172 310h1v1h-1zM1173 311h1v2h-1zM1174 313h1v1h-1zM1175 314h1v1h-1zM1176 315h1v1h-1zM1177 316h1v1h-1zM1178 317h1v1h-1zM1179 318h1v2h-1zM1180 320h1v1h-1zM1181 321h1v1h-1zM1182 322h1v1h-1zM1183 323h1v1h-1zM1184 324h1v1h-1zM1185 325h1v1h-1zM1186 326h2v1h-2zM1188 327h1v1h-1zM1189 328h1v1h-1zM1190 329h1v1h-1zM1191 330h2v1h-2zM1193 331h2v1h-2zM1195 332h2v1h-2zM1197 333h2v1h-2zM1199 334h3v1h-3zM1202 335h4v1h-4zM1206 336h6v1h-6zM1212 335h5v1h-5zM1217 334h3v1h-3zM1220 333h2v1h-2zM1222 332h6v1h-6zM1228 331h6v1h-6zM1234 330h4v1h-4zM1238 329h4v1h-4zM1242 328h4v1h-4zM1246 327h3v1h-3zM1249 326h3v1h-3zM1252 325h2v1h-2zM1254 324h3v1h-3zM1257 323h3v1h-3zM1260 322h2v1h-2zM1262 321h3v1h-3zM1265 320h2v1h-2zM1267 319h2v1h-2zM1269 318h2v1h-2zM1271 317h2v1h-2zM1273 316h2v1h-2zM1275 315h2v1h-2zM1277 314h2v1h-2zM1279 313h2v1h-2zM1281 312h2v1h-2zM1283 311h2v1h-2zM1285 310h2v1h-2zM1287 309h1v1h-1zM1288 308h2v1h-2zM1290 307h2v1h-2zM1292 306h1v1h-1zM1293 305h2v1h-2zM1295 304h2v1h-2zM1297 303h2v1h-2zM1299 302h2v1h-2zM1301 301h2v1h-2zM1303 300h2v1h-2zM1305 299h2v1h-2zM1307 298h2v1h-2zM1309 297h2v1h-2zM1311 296h2v1h-2zM1313 295h2v1h-2zM1315 294h2v1h-2zM1317 293h2v1h-2zM1319 292h2v1h-2zM1321 291h3v1h-3zM1324 290h2v1h-2zM1326 289h3v1h-3zM1329 288h3v1h-3zM1332 287h2v1h-2zM1334 286h3v1h-3zM1337 285h3v1h-3zM1340 284h2v1h-2zM1342 283h6v1h-6zM1348 282h29v1h-29zM1377 283h3v1h-3zM1380 284h2v1h-2zM1382 285h4v1h-4zM1386 286h4v1h-4zM1390 287h3v1h-3zM1393 288h3v1h-3zM1396 289h2v1h-2zM1398 290h3v1h-3zM1401 291h2v1h-2zM1403 292h2v1h-2zM1405 293h2v1h-2zM1407 294h2v1h-2zM1409 295h2v1h-2zM1411 296h2v1h-2zM1413 297h2v1h-2zM1415 298h3v1h-3zM1418 299h4v1h-4zM1422 300h3v1h-3zM1425 301h3v1h-3zM1428 302h2v1h-2zM1430 303h6v1h-6zM1436 304h4v1h-4z" fill="#3CB371"/><path d="M31 577h1v4h-1zM32 572h1v5h-1zM33 567h1v5h-1zM34 562h1v5h-1zM35 557h1v5h-1zM36 552h1v5h-1zM37 547h1v5h-1zM38 542h1v5h-1zM39 536h1v6h-1zM40 530h1v6h-1zM41 524h1v6h-1zM42 517h1v7h-1zM43 511h1v6h-1zM44 504h1v7h-1zM45 498h1v6h-1zM46 492h1v6h-1zM47 487h1v5h-1zM48 485h1v2h-1zM49 483h1v2h-1zM50 480h1v3h-1zM51 478h1v2h-1zM52 475h1v3h-1zM53 473h1v2h-1zM54 471h1v2h-1zM55 468h1v3h-1zM56 466h1v2h-1zM57 463h1v3h-1zM58 461h1v2h-1zM59 458h1v3h-1zM60 456h1v2h-1zM61 453h1v3h-1zM62 451h1v2h-1zM63 449h1v2h-1zM64 448h2v1h-2zM66 447h2v1h-2zM68 446h1v1h-1zM69 445h2v1h-2zM71 444h1v1h-1zM72 445h1v1h-1zM73 446h1v1h-1zM74 447h1v1h-1zM75 448h1v2h-1zM76 450h1v1h-1zM77 451h1v1h-1zM78 452h1v1h-1zM79 453h1v1h-1zM80 454h2v1h-2zM82 455h2v1h-2zM84 456h1v1h-1zM85 457h2v1h-2zM87 458h2v1h-2zM89 459h3v1h-3zM92 460h2v1h-2zM94 461h3v1h-3zM97 462h2v1h-2zM99 463h2v1h-2zM101 464h2v1h-2zM103 465h5v1h-5zM108 466h8v1h-8zM116 467h16v1h-16zM132 466h8v1h-8zM140 465h6v1h-6zM146 466h4v1h-4zM150 467h3v1h-3zM153 468h2v1h-2zM155 469h2v1h-2zM157 470h2v1h-2zM159 471h2v1h-2zM161 472h3v1h-3zM164 473h2v1h-2zM166 474h3v1h-3zM169 475h2v1h-2zM171 476h2v1h-2zM173 477h2v1h-2zM175 478h1v1h-1zM176 479h1v2h-1zM177 481h1v2h-1zM178 483h1v2h-1zM179 485h1v1h-1zM180 486h1v2h-1zM181 488h1v2h-1zM182 490h1v2h-1zM183 492h1v1h-1zM184 493h1v1h-1zM185 494h1v1h-1zM186 495h1v1h-1zM187 496h1v1h-1zM188 497h1v1h-1zM189 498h1v1h-1zM190 499h1v1h-1zM191 500h5v1h-5zM196 501h8v1h-8zM204 500h13v1h-13zM217 501h2v1h-2zM219 502h2v1h-2zM221 503h2v1h-2zM223 504h1v1h-1zM224 505h1v1h-1zM225 506h1v2h-1zM226 508h1v1h-1zM227 509h1v1h-1zM228 510h1v1h-1zM229 511h1v2h-1zM230 513h1v1h-1zM231 514h1v1h-1zM232 515h1v1h-1zM233 516h1v1h-1zM234 517h2v1h-2zM236 518h1v1h-1zM237 519h1v1h-1zM238 520h1v1h-1zM239 521h1v2h-1zM240 523h1v2h-1zM241 525h1v2h-1zM242 527h1v2h-1zM243 529h1v2h-1zM244 531h1v2h-1zM245 533h1v2h-1zM246 535h1v2h-1zM247 537h1v2h-1zM248 539h1v2h-1zM249 541h1v2h-1zM250 543h1v2h-1zM251 545h1v2h-1zM252 547h1v2h-1zM253 549h1v2h-1zM254 551h1v2h-1zM255 553h1v2h-1zM256 555h2v1h-2zM258 556h2v1h-2zM260 557h1v1h-1zM261 558h2v1h-2zM263 559h3v1h-3zM266 560h4v1h-4zM270 561h6v1h-6zM276 562h8v1h-8zM284 563h5v1h-5zM289 564h2v1h-2zM291 565h2v1h-2zM293 566h2v1h-2zM295 567h1v1h-1zM296 565h1v2h-1zM297 564h1v1h-1zM298 563h1v1h-1zM299 561h1v2h-1zM300 560h1v1h-1zM301 559h1v1h-1zM302 557h1v2h-1zM303 556h3v1h-3zM306 555h4v1h-4zM310 554h4v1h-4zM314 553h4v1h-4zM318 552h6v1h-6zM324 551h8v1h-8zM332 552h6v1h-6zM338 551h4v1h-4zM342 550h6v1h-6zM348 551h4v1h-4zM352 552h1v1h-1zM353 553h1v1h-1zM354 554h1v1h-1zM355 555h1v1h-1zM356 556h1v1h-1zM357 557h1v1h-1zM358 558h1v1h-1zM359 559h1v2h-1zM360 561h1v4h-1zM361 565h1v4h-1zM362 569h1v4h-1zM363 573h1v4h-1zM364 577h1v4h-1zM437 580h1v1h-1zM438 577h1v3h-1zM439 575h1v2h-1zM440 573h1v2h-1zM441 572h1v1h-1zM442 570h1v2h-1zM443 569h1v1h-1zM444 567h1v2h-1zM445 566h1v1h-1zM446 564h1v2h-1zM447 562h1v2h-1zM448 560h1v2h-1zM449 558h1v2h-1zM450 555h1v3h-1zM451 553h1v2h-1zM452 550h1v3h-1zM453 548h1v2h-1zM454 546h1v2h-1zM455 543h1v3h-1zM456 541h1v2h-1zM457 539h1v2h-1zM458 536h1v3h-1zM459 534h1v2h-1zM460 531h1v3h-1zM461 529h1v2h-1zM462 527h1v2h-1zM463 524h1v3h-1zM464 522h1v2h-1zM465 520h1v2h-1zM466 518h1v2h-1zM467 515h1v3h-1zM468 513h1v2h-1zM469 511h1v2h-1zM470 509h1v2h-1zM471 507h1v2h-1zM472 507h2v1h-2zM474 506h4v1h-4zM478 505h4v1h-4zM482 506h4v1h-4zM486 507h3v1h-3zM489 508h3v1h-3zM492 509h2v1h-2zM494 510h3v1h-3zM497 509h2v1h-2zM499 508h2v1h-2zM501 507h2v1h-2zM503 506h5v1h-5zM508 505h4v1h-4zM512 506h1v1h-1zM513 507h1v1h-1zM514 508h2v1h-2zM516 509h1v1h-1zM517 510h1v1h-1zM518 511h1v1h-1zM519 512h1v1h-1zM520 513h1v1h-1zM521 514h1v2h-1zM522 516h1v1h-1zM523 517h1v1h-1zM524 518h1v1h-1zM525 519h1v2h-1zM526 521h1v1h-1zM527 522h1v1h-1zM528 523h1v1h-1zM529 524h1v2h-1zM530 526h1v1h-1zM531 527h1v1h-1zM532 528h1v1h-1zM533 529h1v2h-1zM534 531h1v1h-1zM535 532h1v1h-1zM536 533h1v1h-1zM537 534h1v1h-1zM538 535h1v1h-1zM539 536h1v1h-1zM540 537h1v1h-1zM541 538h1v1h-1zM542 539h1v1h-1zM543 540h2v1h-2zM545 539h3v1h-3zM548 538h2v1h-2zM550 537h2v1h-2zM551 536h1v1h-1zM552 534h1v2h-1zM553 532h1v2h-1zM554 530h1v2h-1zM555 527h1v3h-1zM556 525h1v2h-1zM557 523h1v2h-1zM558 521h1v2h-1zM559 519h1v2h-1zM560 517h1v2h-1zM561 515h1v2h-1zM562 513h1v2h-1zM563 512h1v1h-1zM564 510h1v2h-1zM565 508h1v2h-1zM566 506h1v2h-1zM567 505h1v1h-1zM568 503h1v2h-1zM569 502h1v1h-1zM570 500h1v2h-1zM571 499h1v1h-1zM572 497h1v2h-1zM573 496h1v1h-1zM574 494h1v2h-1zM575 493h1v1h-1zM576 492h2v1h-2zM578 491h2v1h-2zM580 490h1v1h-1zM581 489h2v1h-2zM583 488h27v1h-27zM610 487h4v1h-4zM614 486h6v1h-6zM620 487h8v1h-8zM628 488h8v1h-8zM636 487h4v1h-4zM640 486h1v1h-1zM641 485h1v1h-1zM642 484h1v1h-1zM643 482h1v2h-1zM644 481h1v1h-1zM645 480h1v1h-1zM646 479h1v1h-1zM647 478h1v1h-1zM648 476h1v2h-1zM649 475h1v1h-1zM650 474h1v1h-1zM651 472h1v2h-1zM652 471h1v1h-1zM653 470h1v1h-1zM654 468h1v2h-1zM655 467h3v1h-3zM658 466h4v1h-4zM662 465h3v1h-3zM665 464h3v1h-3zM668 463h2v1h-2zM670 462h2v1h-2zM672 461h2v1h-2zM674 460h1v1h-1zM675 459h1v1h-1zM676 458h2v1h-2zM678 457h1v1h-1zM679 456h1v1h-1zM680 455h2v1h-2zM682 454h2v1h-2zM684 453h1v1h-1zM685 452h2v1h-2zM687 451h1v1h-1zM688 449h1v2h-1zM689 448h1v1h-1zM690 446h1v2h-1zM691 445h1v1h-1zM692 443h1v2h-1zM693 442h1v1h-1zM694 440h1v2h-1zM695 439h1v1h-1zM696 437h1v2h-1zM697 435h1v2h-1zM698 434h1v1h-1zM699 432h1v2h-1zM700 431h1v1h-1zM701 429h1v2h-1zM702 427h1v2h-1zM703 426h1v1h-1zM704 424h1v2h-1zM705 423h1v1h-1zM706 421h1v2h-1zM707 420h1v1h-1zM708 418h1v2h-1zM709 417h1v1h-1zM710 415h1v2h-1zM711 414h1v1h-1zM712 413h2v1h-2zM714 412h2v1h-2zM716 411h1v1h-1zM717 410h2v1h-2zM719 409h2v1h-2zM721 408h2v1h-2zM723 407h2v1h-2zM725 406h2v1h-2zM727 405h1v1h-1zM728 404h2v1h-2zM730 403h2v1h-2zM732 402h1v1h-1zM733 401h2v1h-2zM735 400h1v1h-1zM736 399h2v1h-2zM738 398h2v1h-2zM740 397h1v1h-1zM741 396h2v1h-2zM743 395h1v1h-1zM744 394h2v1h-2zM746 393h2v1h-2zM748 392h1v1h-1zM749 391h2v1h-2zM751 390h2v1h-2zM753 389h2v1h-2zM755 388h2v1h-2zM757 387h2v1h-2zM759 386h1v1h-1zM760 387h2v1h-2zM762 388h2v1h-2zM764 389h1v1h-1zM765 390h2v1h-2zM767 391h1v1h-1zM768 392h1v2h-1zM769 394h1v2h-1zM770 396h1v2h-1zM771 398h1v2h-1zM772 400h1v2h-1zM773 402h1v2h-1zM774 404h1v2h-1zM775 406h1v1h-1zM776 407h1v1h-1zM777 408h1v1h-1zM778 409h1v1h-1zM779 410h1v1h-1zM780 411h1v1h-1zM781 412h1v1h-1zM782 413h1v1h-1zM783 414h2v1h-2zM785 415h3v1h-3zM788 416h2v1h-2zM790 417h11v1h-11zM801 416h2v1h-2zM803 415h2v1h-2zM805 414h2v1h-2zM807 413h2v1h-2zM809 412h2v1h-2zM811 411h2v1h-2zM813 410h2v1h-2zM815 409h1v1h-1zM816 408h1v1h-1zM817 407h1v1h-1zM818 406h1v1h-1zM819 404h1v2h-1zM820 403h1v1h-1zM821 402h1v1h-1zM822 401h1v1h-1zM823 400h1v1h-1zM824 399h1v1h-1zM825 398h1v1h-1zM826 397h1v1h-1zM827 395h1v2h-1zM828 394h1v1h-1zM829 393h1v1h-1zM830 392h1v1h-1zM831 391h1v1h-1zM832 389h1v2h-1zM833 387h1v2h-1zM834 386h1v1h-1zM835 384h1v2h-1zM836 383h1v1h-1zM837 381h1v2h-1zM838 379h1v2h-1zM839 378h1v1h-1zM840 376h1v2h-1zM841 374h1v2h-1zM842 372h1v2h-1zM843 371h1v1h-1zM844 369h1v2h-1zM845 367h1v2h-1zM846 365h1v2h-1zM847 364h1v1h-1zM848 363h2v1h-2zM850 362h2v1h-2zM852 361h1v1h-1zM853 360h2v1h-2zM855 359h2v1h-2zM857 358h2v1h-2zM859 357h2v1h-2zM861 356h2v1h-2zM863 355h2v1h-2zM865 354h2v1h-2zM867 353h2v1h-2zM869 352h2v1h-2zM871 351h1v1h-1zM872 350h1v1h-1zM873 349h1v1h-1zM874 348h1v1h-1zM875 347h1v1h-1zM876 346h1v1h-1zM877 345h1v1h-1zM878 344h1v1h-1zM879 342h1v2h-1zM880 340h1v2h-1zM881 338h1v2h-1zM882 336h1v2h-1zM883 334h1v2h-1zM884 332h1v2h-1zM885 330h1v2h-1zM886 328h1v2h-1zM887 326h1v2h-1zM888 324h1v2h-1zM889 322h1v2h-1zM890 320h1v2h-1zM891 318h1v2h-1zM892 316h1v2h-1zM893 314h1v2h-1zM894 312h1v2h-1zM895 310h1v2h-1zM896 308h1v2h-1zM897 306h1v2h-1zM898 303h1v3h-1zM899 301h1v2h-1zM900 298h1v3h-1zM901 296h1v2h-1zM902 294h1v2h-1zM903 291h1v3h-1zM904 288h1v3h-1zM905 286h1v2h-1zM906 283h1v3h-1zM907 280h1v3h-1zM908 277h1v3h-1zM909 275h1v2h-1zM910 272h1v3h-1zM911 269h1v3h-1zM912 266h1v3h-1zM913 264h1v2h-1zM914 261h1v3h-1zM915 258h1v3h-1zM916 255h1v3h-1zM917 253h1v2h-1zM918 250h1v3h-1zM919 248h1v2h-1zM920 247h1v1h-1zM921 246h1v1h-1zM922 245h1v1h-1zM923 243h1v2h-1zM924 242h1v1h-1zM925 241h1v1h-1zM926 240h1v1h-1zM927 239h13v1h-13zM940 240h8v1h-8zM948 241h6v1h-6zM954 242h4v1h-4zM958 243h6v1h-6zM964 244h24v1h-24zM988 243h8v1h-8zM996 242h5v1h-5zM1001 241h3v1h-3zM1004 240h2v1h-2zM1006 239h3v1h-3zM1009 238h3v1h-3zM1012 237h2v1h-2zM1014 236h6v1h-6zM1020 235h8v1h-8zM1028 234h4v1h-4zM1032 235h1v2h-1zM1033 237h1v2h-1zM1034 239h1v2h-1zM1035 241h1v1h-1zM1036 242h1v2h-1zM1037 244h1v2h-1zM1038 246h1v2h-1zM1039 248h1v1h-1zM1040 249h1v1h-1zM1041 250h1v2h-1zM1042 252h1v1h-1zM1043 253h1v1h-1zM1044 254h1v1h-1zM1045 255h1v2h-1zM1046 257h1v1h-1zM1047 258h1v2h-1zM1048 260h1v3h-1zM1049 263h1v4h-1zM1050 267h1v3h-1zM1051 270h1v3h-1zM1052 273h1v3h-1zM1053 276h1v4h-1zM1054 280h1v3h-1zM1055 283h1v3h-1zM1056 286h1v3h-1zM1057 289h1v3h-1zM1058 292h1v3h-1zM1059 295h1v4h-1zM1060 299h1v3h-1zM1061 302h1v3h-1zM1062 305h1v3h-1zM1063 308h1v3h-1zM1064 311h1v2h-1zM1065 313h1v3h-1zM1066 316h1v2h-1zM1067 318h1v3h-1zM1068 321h1v2h-1zM1069 323h1v3h-1zM1070 326h1v2h-1zM1071 328h1v3h-1zM1072 331h1v2h-1zM1073 333h1v2h-1zM1074 335h1v2h-1zM1075 337h1v3h-1zM1076 340h1v2h-1zM1077 342h1v2h-1zM1078 344h1v2h-1zM1079 346h1v2h-1zM1080 348h1v2h-1zM1081 350h1v2h-1zM1082 352h1v2h-1zM1083 354h1v1h-1zM1084 355h1v2h-1zM1085 357h1v2h-1zM1086 359h1v2h-1zM1087 361h1v1h-1zM1088 362h1v2h-1zM1089 364h1v1h-1zM1090 365h1v2h-1zM1091 367h1v1h-1zM1092 368h1v2h-1zM1093 370h1v1h-1zM1094 371h1v2h-1zM1095 373h1v2h-1zM1096 375h1v2h-1zM1097 377h1v2h-1zM1098 379h1v2h-1zM1099 381h1v2h-1zM1100 383h1v2h-1zM1101 385h1v2h-1zM1102 387h1v2h-1zM1103 389h1v3h-1zM1104 392h1v2h-1zM1105 394h1v2h-1zM1106 396h1v2h-1zM1107 398h1v2h-1zM1108 400h1v2h-1zM1109 402h1v2h-1zM1110 404h1v2h-1zM1111 406h1v3h-1zM1112 409h1v2h-1zM1113 411h1v2h-1zM1114 413h1v2h-1zM1115 415h1v2h-1zM1116 417h1v2h-1zM1117 419h1v2h-1zM1118 421h1v2h-1zM1119 423h1v3h-1zM1120 426h1v2h-1zM1121 428h1v2h-1zM1122 430h1v2h-1zM1123 432h1v3h-1zM1124 435h1v2h-1zM1125 437h1v2h-1zM1126 439h1v2h-1zM1127 441h1v3h-1zM1128 444h1v2h-1zM1129 446h1v2h-1zM1130 448h1v2h-1zM1131 450h1v2h-1zM1132 452h1v2h-1zM1133 454h1v2h-1zM1134 456h1v2h-1zM1135 458h1v2h-1zM1136 460h1v2h-1zM1137 462h1v2h-1zM1138 464h1v1h-1zM1139 465h1v2h-1zM1140 467h1v1h-1zM1141 468h1v2h-1zM1142 470h1v2h-1zM1143 472h3v1h-3zM1146 473h4v1h-4zM1150 474h3v1h-3zM1153 473h3v1h-3zM1156 472h2v1h-2zM1158 471h4v1h-4zM1162 470h4v1h-4zM1166 469h2v1h-2zM1168 467h1v2h-1zM1169 465h1v2h-1zM1170 463h1v2h-1zM1171 461h1v2h-1zM1172 459h1v2h-1zM1173 457h1v2h-1zM1174 455h1v2h-1zM1175 453h1v2h-1zM1176 451h1v2h-1zM1177 448h1v3h-1zM1178 445h1v3h-1zM1179 443h1v2h-1zM1180 440h1v3h-1zM1181 437h1v3h-1zM1182 435h1v2h-1zM1183 432h1v3h-1zM1184 430h1v2h-1zM1185 427h1v3h-1zM1186 425h1v2h-1zM1187 422h1v3h-1zM1188 420h1v2h-1zM1189 417h1v3h-1zM1190 415h1v2h-1zM1191 413h1v2h-1zM1192 413h1v1h-1zM1193 412h2v1h-2zM1195 411h2v1h-2zM1197 410h2v1h-2zM1199 409h1v1h-1zM1200 407h1v2h-1zM1201 406h1v1h-1zM1202 405h1v1h-1zM1203 403h1v2h-1zM1204 402h1v1h-1zM1205 401h1v1h-1zM1206 399h1v2h-1zM1207 398h5v1h-5zM1212 399h4v1h-4zM1216 400h2v1h-2zM1218 401h2v1h-2zM1220 402h1v1h-1zM1221 403h2v1h-2zM1223 404h11v1h-11zM1234 405h4v1h-4zM1238 406h4v1h-4zM1242 407h4v1h-4zM1246 408h3v1h-3zM1249 409h2v1h-2zM1251 410h2v1h-2zM1253 411h2v1h-2zM1255 412h2v1h-2zM1257 413h3v1h-3zM1260 414h2v1h-2zM1262 415h4v1h-4zM1266 414h4v1h-4zM1270 413h6v1h-6zM1276 412h4v1h-4zM1280 411h1v1h-1zM1281 409h1v2h-1zM1282 408h1v1h-1zM1283 407h1v1h-1zM1284 406h1v1h-1zM1285 404h1v2h-1zM1286 403h1v1h-1zM1287 402h1v1h-1zM1288 400h1v2h-1zM1289 398h1v2h-1zM1290 397h1v1h-1zM1291 395h1v2h-1zM1292 394h1v1h-1zM1293 392h1v2h-1zM1294 390h1v2h-1zM1295 389h1v1h-1zM1296 387h1v2h-1zM1297 385h1v2h-1zM1298 383h1v2h-1zM1299 382h1v1h-1zM1300 380h1v2h-1zM1301 378h1v2h-1zM1302 376h1v2h-1zM1303 375h1v1h-1zM1304 373h1v2h-1zM1305 372h1v1h-1zM1306 370h1v2h-1zM1307 369h1v1h-1zM1308 367h1v2h-1zM1309 366h1v1h-1zM1310 364h1v2h-1zM1311 363h1v1h-1zM1312 361h1v2h-1zM1313 359h1v2h-1zM1314 358h1v1h-1zM1315 356h1v2h-1zM1316 355h1v1h-1zM1317 353h1v2h-1zM1318 351h1v2h-1zM1319 350h1v1h-1zM1320 348h1v2h-1zM1321 346h1v2h-1zM1322 344h1v2h-1zM1323 342h1v2h-1zM1324 340h1v2h-1zM1325 338h1v2h-1zM1326 336h1v2h-1zM1327 335h2v1h-2zM1329 334h2v1h-2zM1331 333h2v1h-2zM1333 332h2v1h-2zM1335 331h2v1h-2zM1337 330h3v1h-3zM1340 329h2v1h-2zM1342 328h3v1h-3zM1345 327h3v1h-3zM1348 326h2v1h-2zM1350 325h4v1h-4zM1354 324h4v1h-4zM1358 323h14v1h-14zM1372 324h4v1h-4zM1376 325h1v1h-1zM1377 326h1v1h-1zM1378 327h1v1h-1zM1379 328h1v1h-1zM1380 329h1v1h-1zM1381 330h1v1h-1zM1382 331h1v1h-1zM1383 332h1v1h-1zM1384 333h2v1h-2zM1386 334h2v1h-2zM1388 335h1v1h-1zM1389 336h2v1h-2zM1391 337h1v1h-1zM1392 338h1v1h-1zM1393 339h1v1h-1zM1394 340h2v1h-2zM1396 341h1v1h-1zM1397 342h1v1h-1zM1398 343h1v1h-1zM1399 344h1v1h-1zM1400 345h1v1h-1zM1401 346h1v1h-1zM1402 347h2v1h-2zM1404 348h1v1h-1zM1405 349h1v1h-1zM1406 350h1v1h-1zM1407 351h2v1h-2zM1409 352h2v1h-2zM1411 353h2v1h-2zM1413 354h2v1h-2zM1415 355h5v1h-5zM1420 354h8v1h-8zM1428 355h8v1h-8zM1436 356h4v1h-4z" fill="#3CB371"/><rect x="-3" y="353" width="5" height="36" fill="#000"/><rect x="-2" y="354" width="3" height="34" fill="#fff"/><rect x="7" y="323" width="1" height="44" fill="#000"/><rect x="5" y="351" width="5" height="2" fill="#000"/><rect x="15" y="345" width="1" height="11" fill="#000"/><rect x="13" y="346" width="5" height="7" fill="#000"/><rect x="23" y="346" width="1" height="26" fill="#000"/><rect x="21" y="352" width="5" height="10" fill="#000"/><rect x="31" y="332" width="1" height="37" fill="#000"/><rect x="29" y="343" width="5" height="19" fill="#000"/><rect x="30" y="344" width="3" height="17" fill="#fff"/><rect x="39" y="341" width="1" height="65" fill="#000"/><rect x="37" y="343" width="5" height="21" fill="#000"/><rect x="47" y="354" width="1" height="47" fill="#000"/><rect x="45" y="360" width="5" height="3" fill="#000"/><rect x="46" y="361" width="3" height="1" fill="#fff"/><rect x="55" y="357" width="1" height="38" fill="#000"/><rect x="53" y="360" width="5" height="17" fill="#000"/><rect x="63" y="372" width="1" height="4" fill="#000"/><rect x="61" y="372" width="5" height="2" fill="#000"/><rect x="71" y="362" width="1" height="38" fill="#000"/><rect x="69" y="372" width="5" height="21" fill="#000"/><rect x="79" y="389" width="1" height="83" fill="#000"/><rect x="77" y="392" width="5" height="56" fill="#000"/><rect x="87" y="418" width="1" height="49" fill="#000"/><rect x="85" y="434" width="5" height="13" fill="#000"/><rect x="86" y="435" width="3" height="11" fill="#fff"/><rect x="95" y="403" width="1" height="50" fill="#000"/><rect x="93" y="430" width="5" height="5" fill="#000"/><rect x="94" y="431" width="3" height="3" fill="#fff"/><rect x="103" y="423" width="1" height="31" fill="#000"/><rect x="101" y="429" width="5" height="13" fill="#000"/><rect x="111" y="430" width="1" height="7" fill="#000"/><rect x="109" y="431" width="5" height="4" fill="#000"/><rect x="110" y="432" width="3" height="2" fill="#fff"/><rect x="119" y="407" width="1" height="27" fill="#000"/><rect x="117" y="419" width="5" height="13" fill="#000"/><rect x="118" y="420" width="3" height="11" fill="#fff"/><rect x="127" y="408" width="1" height="34" fill="#000"/><rect x="125" y="418" width="5" height="22" fill="#000"/><rect x="135" y="429" width="1" height="42" fill="#000"/><rect x="133" y="431" width="5" height="9" fill="#000"/><rect x="134" y="432" width="3" height="7" fill="#fff"/><rect x="143" y="334" width="1" height="109" fill="#000"/><rect x="141" y="353" width="5" height="79" fill="#000"/><rect x="142" y="354" width="3" height="77" fill="#fff"/><rect x="151" y="348" width="1" height="68" fill="#000"/><rect x="149" y="353" width="5" height="61" fill="#000"/><rect x="159" y="422" width="1" height="14" fill="#000"/><rect x="157" y="426" width="5" height="7" fill="#000"/><rect x="167" y="420" width="1" height="29" fill="#000"/><rect x="165" y="432" width="5" height="7" fill="#000"/><rect x="175" y="422" width="1" height="32" fill="#000"/><rect x="173" y="438" width="5" height="13" fill="#000"/><rect x="183" y="450" width="1" height="71" fill="#000"/><rect x="181" y="450" width="5" height="62" fill="#000"/><rect x="191" y="467" width="1" height="49" fill="#000"/><rect x="189" y="483" width="5" height="28" fill="#000"/><rect x="190" y="484" width="3" height="26" fill="#fff"/><rect x="199" y="441" width="1" height="45" fill="#000"/><rect x="197" y="453" width="5" height="30" fill="#000"/><rect x="198" y="454" width="3" height="28" fill="#fff"/><rect x="207" y="438" width="1" height="12" fill="#000"/><rect x="205" y="439" width="5" height="6" fill="#000"/><rect x="206" y="440" width="3" height="4" fill="#fff"/><rect x="215" y="422" width="1" height="52" fill="#000"/><rect x="213" y="438" width="5" height="5" fill="#000"/><rect x="223" y="435" width="1" height="63" fill="#000"/><rect x="221" y="442" width="5" height="54" fill="#000"/><rect x="231" y="470" width="1" height="51" fill="#000"/><rect x="229" y="495" width="5" height="18" fill="#000"/><rect x="239" y="493" width="1" height="48" fill="#000"/><rect x="237" y="494" width="5" height="18" fill="#000"/><rect x="238" y="495" width="3" height="16" fill="#fff"/><rect x="247" y="490" width="1" height="57" fill="#000"/><rect x="245" y="494" width="5" height="53" fill="#000"/><rect x="255" y="555" width="1" height="10" fill="#000"/><rect x="253" y="557" width="5" height="6" fill="#000"/><rect x="263" y="496" width="1" height="68" fill="#000"/><rect x="261" y="507" width="5" height="54" fill="#000"/><rect x="262" y="508" width="3" height="52" fill="#fff"/><rect x="271" y="448" width="1" height="68" fill="#000"/><rect x="269" y="462" width="5" height="45" fill="#000"/><rect x="270" y="463" width="3" height="43" fill="#fff"/><rect x="279" y="451" width="1" height="40" fill="#000"/><rect x="277" y="462" width="5" height="20" fill="#000"/><rect x="287" y="470" width="1" height="29" fill="#000"/><rect x="285" y="481" width="5" height="5" fill="#000"/><rect x="295" y="476" width="1" height="44" fill="#000"/><rect x="293" y="485" width="5" height="24" fill="#000"/><rect x="303" y="494" width="1" height="8" fill="#000"/><rect x="301" y="495" width="5" height="4" fill="#000"/><rect x="302" y="496" width="3" height="2" fill="#fff"/><rect x="311" y="491" width="1" height="17" fill="#000"/><rect x="309" y="491" width="5" height="5" fill="#000"/><rect x="310" y="492" width="3" height="3" fill="#fff"/><rect x="319" y="428" width="1" height="65" fill="#000"/><rect x="317" y="446" width="5" height="46" fill="#000"/><rect x="318" y="447" width="3" height="44" fill="#fff"/><rect x="327" y="429" width="1" height="54" fill="#000"/><rect x="325" y="446" width="5" height="15" fill="#000"/><rect x="335" y="434" width="1" height="41" fill="#000"/><rect x="333" y="445" width="5" height="15" fill="#000"/><rect x="334" y="446" width="3" height="13" fill="#fff"/><rect x="343" y="411" width="1" height="66" fill="#000"/><rect x="341" y="434" width="5" height="11" fill="#000"/><rect x="342" y="435" width="3" height="9" fill="#fff"/><rect x="351" y="429" width="1" height="6" fill="#000"/><rect x="349" y="429" width="5" height="2" fill="#000"/><rect x="359" y="370" width="1" height="63" fill="#000"/><rect x="357" y="379" width="5" height="52" fill="#000"/><rect x="358" y="380" width="3" height="50" fill="#fff"/><rect x="367" y="276" width="1" height="105" fill="#000"/><rect x="365" y="277" width="5" height="103" fill="#000"/><rect x="366" y="278" width="3" height="101" fill="#fff"/><rect x="375" y="259" width="1" height="45" fill="#000"/><rect x="373" y="273" width="5" height="5" fill="#000"/><rect x="374" y="274" width="3" height="3" fill="#fff"/><rect x="383" y="243" width="1" height="73" fill="#000"/><rect x="381" y="251" width="5" height="21" fill="#000"/><rect x="382" y="252" width="3" height="19" fill="#fff"/><rect x="391" y="168" width="1" height="96" fill="#000"/><rect x="389" y="202" width="5" height="50" fill="#000"/><rect x="390" y="203" width="3" height="48" fill="#fff"/><rect x="399" y="174" width="1" height="19" fill="#000"/><rect x="397" y="180" width="5" height="12" fill="#000"/><rect x="398" y="181" width="3" height="10" fill="#fff"/><rect x="407" y="180" width="1" height="79" fill="#000"/><rect x="405" y="180" width="5" height="54" fill="#000"/><rect x="415" y="228" width="1" height="77" fill="#000"/><rect x="413" y="234" width="5" height="40" fill="#000"/><rect x="423" y="258" width="1" height="58" fill="#000"/><rect x="421" y="273" width="5" height="40" fill="#000"/><rect x="431" y="296" width="1" height="91" fill="#000"/><rect x="429" y="311" width="5" height="69" fill="#000"/><rect x="439" y="311" width="1" height="88" fill="#000"/><rect x="437" y="378" width="5" height="6" fill="#000"/><rect x="447" y="372" width="1" height="15" fill="#000"/><rect x="445" y="373" width="5" height="9" fill="#000"/><rect x="455" y="319" width="1" height="92" fill="#000"/><rect x="453" y="319" width="5" height="62" fill="#000"/><rect x="454" y="320" width="3" height="60" fill="#fff"/><rect x="463" y="299" width="1" height="64" fill="#000"/><rect x="461" y="320" width="5" height="28" fill="#000"/><rect x="471" y="346" width="1" height="43" fill="#000"/><rect x="469" y="347" width="5" height="39" fill="#000"/><rect x="479" y="377" width="1" height="77" fill="#000"/><rect x="477" y="386" width="5" height="47" fill="#000"/><rect x="487" y="420" width="1" height="51" fill="#000"/><rect x="485" y="431" width="5" height="37" fill="#000"/><rect x="495" y="470" width="1" height="7" fill="#000"/><rect x="493" y="472" width="5" height="1" fill="#000"/><rect x="503" y="402" width="1" height="76" fill="#000"/><rect x="501" y="405" width="5" height="66" fill="#000"/><rect x="502" y="406" width="3" height="64" fill="#fff"/><rect x="511" y="391" width="1" height="54" fill="#000"/><rect x="509" y="405" width="5" height="14" fill="#000"/><rect x="519" y="405" width="1" height="37" fill="#000"/><rect x="517" y="418" width="5" height="18" fill="#000"/><rect x="527" y="405" width="1" height="33" fill="#000"/><rect x="525" y="425" width="5" height="11" fill="#000"/><rect x="526" y="426" width="3" height="9" fill="#fff"/><rect x="535" y="419" width="1" height="48" fill="#000"/><rect x="533" y="425" width="5" height="33" fill="#000"/><rect x="543" y="455" width="1" height="7" fill="#000"/><rect x="541" y="455" width="5" height="4" fill="#000"/><rect x="542" y="456" width="3" height="2" fill="#fff"/><rect x="551" y="441" width="1" height="30" fill="#000"/><rect x="549" y="451" width="5" height="4" fill="#000"/><rect x="550" y="452" width="3" height="2" fill="#fff"/><rect x="559" y="395" width="1" height="73" fill="#000"/><rect x="557" y="399" width="5" height="52" fill="#000"/><rect x="558" y="400" width="3" height="50" fill="#fff"/><rect x="567" y="382" width="1" height="50" fill="#000"/><rect x="565" y="397" width="5" height="3" fill="#000"/><rect x="566" y="398" width="3" height="1" fill="#fff"/><rect x="575" y="363" width="1" height="36" fill="#000"/><rect x="573" y="390" width="5" height="8" fill="#000"/><rect x="574" y="391" width="3" height="6" fill="#fff"/><rect x="583" y="382" width="1" height="21" fill="#000"/><rect x="581" y="386" width="5" height="4" fill="#000"/><rect x="582" y="387" width="3" height="2" fill="#fff"/><rect x="591" y="381" width="1" height="6" fill="#000"/><rect x="589" y="382" width="5" height="4" fill="#000"/><rect x="590" y="383" width="3" height="2" fill="#fff"/><rect x="599" y="364" width="1" height="26" fill="#000"/><rect x="597" y="382" width="5" height="4" fill="#000"/><rect x="607" y="336" width="1" height="51" fill="#000"/><rect x="605" y="355" width="5" height="30" fill="#000"/><rect x="606" y="356" width="3" height="28" fill="#fff"/><rect x="615" y="335" width="1" height="34" fill="#000"/><rect x="613" y="340" width="5" height="15" fill="#000"/><rect x="614" y="341" width="3" height="13" fill="#fff"/><rect x="623" y="316" width="1" height="35" fill="#000"/><rect x="621" y="339" width="5" height="7" fill="#000"/><rect x="631" y="344" width="1" height="36" fill="#000"/><rect x="629" y="344" width="5" height="8" fill="#000"/><rect x="639" y="348" width="1" height="7" fill="#000"/><rect x="637" y="349" width="5" height="4" fill="#000"/><rect x="647" y="333" width="1" height="36" fill="#000"/><rect x="645" y="351" width="5" height="15" fill="#000"/><rect x="655" y="357" width="1" height="35" fill="#000"/><rect x="653" y="361" width="5" height="5" fill="#000"/><rect x="654" y="362" width="3" height="3" fill="#fff"/><rect x="663" y="348" width="1" height="25" fill="#000"/><rect x="661" y="360" width="5" height="8" fill="#000"/><rect x="671" y="345" width="1" height="44" fill="#000"/><rect x="669" y="362" width="5" height="7" fill="#000"/><rect x="670" y="363" width="3" height="5" fill="#fff"/><rect x="679" y="355" width="1" height="32" fill="#000"/><rect x="677" y="362" width="5" height="14" fill="#000"/><rect x="687" y="366" width="1" height="6" fill="#000"/><rect x="685" y="366" width="5" height="6" fill="#000"/><rect x="686" y="367" width="3" height="4" fill="#fff"/><rect x="695" y="316" width="1" height="62" fill="#000"/><rect x="693" y="324" width="5" height="43" fill="#000"/><rect x="694" y="325" width="3" height="41" fill="#fff"/><rect x="703" y="296" width="1" height="29" fill="#000"/><rect x="701" y="312" width="5" height="13" fill="#000"/><rect x="702" y="313" width="3" height="11" fill="#fff"/><rect x="711" y="289" width="1" height="53" fill="#000"/><rect x="709" y="297" width="5" height="15" fill="#000"/><rect x="710" y="298" width="3" height="13" fill="#fff"/><rect x="719" y="289" width="1" height="31" fill="#000"/><rect x="717" y="297" width="5" height="17" fill="#000"/><rect x="727" y="311" width="1" height="42" fill="#000"/><rect x="725" y="313" width="5" height="18" fill="#000"/><rect x="735" y="323" width="1" height="10" fill="#000"/><rect x="733" y="328" width="5" height="2" fill="#000"/><rect x="743" y="319" width="1" height="28" fill="#000"/><rect x="741" y="325" width="5" height="4" fill="#000"/><rect x="742" y="326" width="3" height="2" fill="#fff"/><rect x="751" y="308" width="1" height="32" fill="#000"/><rect x="749" y="320" width="5" height="6" fill="#000"/><rect x="750" y="321" width="3" height="4" fill="#fff"/><rect x="759" y="295" width="1" height="31" fill="#000"/><rect x="757" y="300" width="5" height="20" fill="#000"/><rect x="758" y="301" width="3" height="18" fill="#fff"/><rect x="767" y="259" width="1" height="52" fill="#000"/><rect x="765" y="263" width="5" height="37" fill="#000"/><rect x="766" y="264" width="3" height="35" fill="#fff"/><rect x="775" y="189" width="1" height="94" fill="#000"/><rect x="773" y="212" width="5" height="51" fill="#000"/><rect x="774" y="213" width="3" height="49" fill="#fff"/><rect x="783" y="208" width="1" height="8" fill="#000"/><rect x="781" y="209" width="5" height="5" fill="#000"/><rect x="782" y="210" width="3" height="3" fill="#fff"/><rect x="791" y="195" width="1" height="51" fill="#000"/><rect x="789" y="209" width="5" height="3" fill="#000"/><rect x="790" y="210" width="3" height="1" fill="#fff"/><rect x="799" y="201" width="1" height="43" fill="#000"/><rect x="797" y="210" width="5" height="18" fill="#000"/><rect x="807" y="196" width="1" height="39" fill="#000"/><rect x="805" y="214" width="5" height="14" fill="#000"/><rect x="806" y="215" width="3" height="12" fill="#fff"/><rect x="815" y="187" width="1" height="32" fill="#000"/><rect x="813" y="208" width="5" height="7" fill="#000"/><rect x="814" y="209" width="3" height="5" fill="#fff"/><rect x="823" y="206" width="1" height="36" fill="#000"/><rect x="821" y="208" width="5" height="18" fill="#000"/><rect x="831" y="228" width="1" height="4" fill="#000"/><rect x="829" y="229" width="5" height="2" fill="#000"/><rect x="839" y="210" width="1" height="22" fill="#000"/><rect x="837" y="212" width="5" height="18" fill="#000"/><rect x="838" y="213" width="3" height="16" fill="#fff"/><rect x="847" y="177" width="1" height="37" fill="#000"/><rect x="845" y="197" width="5" height="16" fill="#000"/><rect x="846" y="198" width="3" height="14" fill="#fff"/><rect x="855" y="173" width="1" height="29" fill="#000"/><rect x="853" y="182" width="5" height="15" fill="#000"/><rect x="854" y="183" width="3" height="13" fill="#fff"/><rect x="863" y="150" width="1" height="37" fill="#000"/><rect x="861" y="165" width="5" height="18" fill="#000"/><rect x="862" y="166" width="3" height="16" fill="#fff"/><rect x="871" y="157" width="1" height="27" fill="#000"/><rect x="869" y="165" width="5" height="13" fill="#000"/><rect x="879" y="171" width="1" height="4" fill="#000"/><rect x="877" y="171" width="5" height="3" fill="#000"/><rect x="878" y="172" width="3" height="1" fill="#fff"/><rect x="887" y="170" width="1" height="38" fill="#000"/><rect x="885" y="171" width="5" height="29" fill="#000"/><rect x="895" y="172" width="1" height="41" fill="#000"/><rect x="893" y="179" width="5" height="21" fill="#000"/><rect x="894" y="180" width="3" height="19" fill="#fff"/><rect x="903" y="160" width="1" height="45" fill="#000"/><rect x="901" y="178" width="5" height="17" fill="#000"/><rect x="911" y="162" width="1" height="52" fill="#000"/><rect x="909" y="170" width="5" height="24" fill="#000"/><rect x="910" y="171" width="3" height="22" fill="#fff"/><rect x="919" y="160" width="1" height="66" fill="#000"/><rect x="917" y="170" width="5" height="45" fill="#000"/><rect x="927" y="208" width="1" height="4" fill="#000"/><rect x="925" y="209" width="5" height="3" fill="#000"/><rect x="935" y="196" width="1" height="29" fill="#000"/><rect x="933" y="211" width="5" height="4" fill="#000"/><rect x="943" y="156" width="1" height="63" fill="#000"/><rect x="941" y="161" width="5" height="54" fill="#000"/><rect x="942" y="162" width="3" height="52" fill="#fff"/><rect x="951" y="146" width="1" height="27" fill="#000"/><rect x="949" y="160" width="5" height="2" fill="#000"/><rect x="959" y="124" width="1" height="47" fill="#000"/><rect x="957" y="127" width="5" height="34" fill="#000"/><rect x="958" y="128" width="3" height="32" fill="#fff"/><rect x="967" y="95" width="1" height="63" fill="#000"/><rect x="965" y="128" width="5" height="6" fill="#000"/><rect x="975" y="119" width="1" height="8" fill="#000"/><rect x="973" y="119" width="5" height="3" fill="#000"/><rect x="983" y="79" width="1" height="60" fill="#000"/><rect x="981" y="94" width="5" height="28" fill="#000"/><rect x="982" y="95" width="3" height="26" fill="#fff"/><rect x="991" y="53" width="1" height="54" fill="#000"/><rect x="989" y="84" width="5" height="10" fill="#000"/><rect x="990" y="85" width="3" height="8" fill="#fff"/><rect x="999" y="81" width="1" height="38" fill="#000"/><rect x="997" y="85" width="5" height="5" fill="#000"/><rect x="1007" y="89" width="1" height="51" fill="#000"/><rect x="1005" y="90" width="5" height="41" fill="#000"/><rect x="1015" y="102" width="1" height="52" fill="#000"/><rect x="1013" y="113" width="5" height="17" fill="#000"/><rect x="1014" y="114" width="3" height="15" fill="#fff"/><rect x="1023" y="124" width="1" height="6" fill="#000"/><rect x="1021" y="125" width="5" height="1" fill="#000"/><rect x="1031" y="119" width="1" height="55" fill="#000"/><rect x="1029" y="126" width="5" height="37" fill="#000"/><rect x="1039" y="161" width="1" height="112" fill="#000"/><rect x="1037" y="162" width="5" height="97" fill="#000"/><rect x="1047" y="221" width="1" height="64" fill="#000"/><rect x="1045" y="232" width="5" height="27" fill="#000"/><rect x="1046" y="233" width="3" height="25" fill="#fff"/><rect x="1055" y="222" width="1" height="108" fill="#000"/><rect x="1053" y="232" width="5" height="84" fill="#000"/><rect x="1063" y="290" width="1" height="40" fill="#000"/><rect x="1061" y="314" width="5" height="11" fill="#000"/><rect x="1071" y="315" width="1" height="5" fill="#000"/><rect x="1069" y="315" width="5" height="3" fill="#000"/><rect x="1070" y="316" width="3" height="1" fill="#fff"/><rect x="1079" y="290" width="1" height="33" fill="#000"/><rect x="1077" y="315" width="5" height="5" fill="#000"/><rect x="1087" y="296" width="1" height="40" fill="#000"/><rect x="1085" y="319" width="5" height="3" fill="#000"/><rect x="1095" y="295" width="1" height="36" fill="#000"/><rect x="1093" y="306" width="5" height="16" fill="#000"/><rect x="1094" y="307" width="3" height="14" fill="#fff"/><rect x="1103" y="307" width="1" height="62" fill="#000"/><rect x="1101" y="307" width="5" height="13" fill="#000"/><rect x="1111" y="307" width="1" height="47" fill="#000"/><rect x="1109" y="318" width="5" height="29" fill="#000"/><rect x="1119" y="343" width="1" height="5" fill="#000"/><rect x="1117" y="344" width="5" height="3" fill="#000"/><rect x="1118" y="345" width="3" height="1" fill="#fff"/><rect x="1127" y="339" width="1" height="70" fill="#000"/><rect x="1125" y="344" width="5" height="40" fill="#000"/><rect x="1135" y="375" width="1" height="53" fill="#000"/><rect x="1133" y="383" width="5" height="14" fill="#000"/><rect x="1143" y="367" width="1" height="58" fill="#000"/><rect x="1141" y="395" width="5" height="1" fill="#000"/><rect x="1151" y="365" width="1" height="42" fill="#000"/><rect x="1149" y="371" width="5" height="24" fill="#000"/><rect x="1150" y="372" width="3" height="22" fill="#fff"/><rect x="1159" y="358" width="1" height="40" fill="#000"/><rect x="1157" y="372" width="5" height="3" fill="#000"/><rect x="1167" y="359" width="1" height="6" fill="#000"/><rect x="1165" y="361" width="5" height="4" fill="#000"/><rect x="1166" y="362" width="3" height="2" fill="#fff"/><rect x="1175" y="304" width="1" height="73" fill="#000"/><rect x="1173" y="323" width="5" height="38" fill="#000"/><rect x="1174" y="324" width="3" height="36" fill="#fff"/><rect x="1183" y="303" width="1" height="32" fill="#000"/><rect x="1181" y="315" width="5" height="8" fill="#000"/><rect x="1182" y="316" width="3" height="6" fill="#fff"/><rect x="1191" y="292" width="1" height="53" fill="#000"/><rect x="1189" y="305" width="5" height="11" fill="#000"/><rect x="1190" y="306" width="3" height="9" fill="#fff"/><rect x="1199" y="274" width="1" height="65" fill="#000"/><rect x="1197" y="305" width="5" height="8" fill="#000"/><rect x="1207" y="298" width="1" height="53" fill="#000"/><rect x="1205" y="301" width="5" height="12" fill="#000"/><rect x="1206" y="302" width="3" height="10" fill="#fff"/><rect x="1215" y="293" width="1" height="6" fill="#000"/><rect x="1213" y="296" width="5" height="2" fill="#000"/><rect x="1223" y="258" width="1" height="47" fill="#000"/><rect x="1221" y="261" width="5" height="36" fill="#000"/><rect x="1222" y="262" width="3" height="34" fill="#fff"/><rect x="1231" y="257" width="1" height="61" fill="#000"/><rect x="1229" y="261" width="5" height="49" fill="#000"/><rect x="1239" y="274" width="1" height="38" fill="#000"/><rect x="1237" y="279" width="5" height="30" fill="#000"/><rect x="1238" y="280" width="3" height="28" fill="#fff"/><rect x="1247" y="258" width="1" height="29" fill="#000"/><rect x="1245" y="266" width="5" height="14" fill="#000"/><rect x="1246" y="267" width="3" height="12" fill="#fff"/><rect x="1255" y="244" width="1" height="39" fill="#000"/><rect x="1253" y="246" width="5" height="21" fill="#000"/><rect x="1254" y="247" width="3" height="19" fill="#fff"/><rect x="1263" y="246" width="1" height="5" fill="#000"/><rect x="1261" y="247" width="5" height="4" fill="#000"/><rect x="1271" y="246" width="1" height="21" fill="#000"/><rect x="1269" y="249" width="5" height="2" fill="#000"/><rect x="1279" y="244" width="1" height="55" fill="#000"/><rect x="1277" y="250" width="5" height="48" fill="#000"/><rect x="1287" y="261" width="1" height="66" fill="#000"/><rect x="1285" y="282" width="5" height="16" fill="#000"/><rect x="1286" y="283" width="3" height="14" fill="#fff"/><rect x="1295" y="267" width="1" height="56" fill="#000"/><rect x="1293" y="282" width="5" height="31" fill="#000"/><rect x="1303" y="297" width="1" height="40" fill="#000"/><rect x="1301" y="302" width="5" height="11" fill="#000"/><rect x="1302" y="303" width="3" height="9" fill="#fff"/><rect x="1311" y="300" width="1" height="8" fill="#000"/><rect x="1309" y="302" width="5" height="5" fill="#000"/><rect x="1310" y="303" width="3" height="3" fill="#fff"/><rect x="1319" y="264" width="1" height="41" fill="#000"/><rect x="1317" y="292" width="5" height="10" fill="#000"/><rect x="1318" y="293" width="3" height="8" fill="#fff"/><rect x="1327" y="273" width="1" height="28" fill="#000"/><rect x="1325" y="288" width="5" height="4" fill="#000"/><rect x="1326" y="289" width="3" height="2" fill="#fff"/><rect x="1335" y="248" width="1" height="44" fill="#000"/><rect x="1333" y="257" width="5" height="30" fill="#000"/><rect x="1334" y="258" width="3" height="28" fill="#fff"/><rect x="1343" y="251" width="1" height="25" fill="#000"/><rect x="1341" y="257" width="5" height="11" fill="#000"/><rect x="1351" y="262" width="1" height="38" fill="#000"/><rect x="1349" y="267" width="5" height="27" fill="#000"/><rect x="1359" y="288" width="1" height="4" fill="#000"/><rect x="1357" y="288" width="5" height="4" fill="#000"/><rect x="1358" y="289" width="3" height="2" fill="#fff"/><rect x="1367" y="272" width="1" height="25" fill="#000"/><rect x="1365" y="288" width="5" height="9" fill="#000"/><rect x="1375" y="290" width="1" height="19" fill="#000"/><rect x="1373" y="296" width="5" height="9" fill="#000"/><rect x="1383" y="304" width="1" height="53" fill="#000"/><rect x="1381" y="304" width="5" height="29" fill="#000"/><rect x="1391" y="320" width="1" height="46" fill="#000"/><rect x="1389" y="333" width="5" height="12" fill="#000"/><rect x="1399" y="321" width="1" height="55" fill="#000"/><rect x="1397" y="327" width="5" height="18" fill="#000"/><rect x="1398" y="328" width="3" height="16" fill="#fff"/><rect x="1407" y="335" width="1" height="11" fill="#000"/><rect x="1405" y="339" width="5" height="7" fill="#000"/><rect x="1415" y="335" width="1" height="23" fill="#000"/><rect x="1413" y="340" width="5" height="4" fill="#000"/><rect x="1414" y="341" width="3" height="2" fill="#fff"/><rect x="1423" y="259" width="1" height="88" fill="#000"/><rect x="1421" y="268" width="5" height="72" fill="#000"/><rect x="1422" y="269" width="3" height="70" fill="#fff"/><rect x="1431" y="260" width="1" height="87" fill="#000"/><rect x="1429" y="264" width="5" height="73" fill="#000"/><rect x="1439" y="301" width="1" height="49" fill="#000"/><rect x="1437" y="313" width="5" height="24" fill="#000"/><rect x="1438" y="314" width="3" height="22" fill="#fff"/><rect x="1235" y="312" width="242" height="8" fill="#00FF00"/></g></g><g clip-path="url(#c1)" shape-rendering="crispEdges" stroke="#FF0000" stroke-width="3" fill="#FF0000" stroke-linecap="butt"><line x1="1341.0" y1="262.0" x2="1398.1" y2="351.6"/><polygon stroke="none" points="1403.5,360.0 1392.4,352.8 1401.7,346.9"/><line x1="1403.5" y1="358.0" x2="1429.8" y2="263.6"/><polygon stroke="none" points="1432.5,254.0 1434.6,267.0 1424.0,264.1"/><line x1="1432.5" y1="256.0" x2="1441.3" y2="331.1"/><polygon stroke="none" points="1442.5,341.0 1435.6,329.7 1446.6,328.4"/><line x1="1442.5" y1="339.0" x2="1450.5" y2="307.7"/><polygon stroke="none" points="1453.0,298.0 1455.4,311.0 1444.7,308.3"/></g><g shape-rendering="crispEdges"><rect x="381" y="168" width="10" height="1" fill="#FF0000"/><rect x="320" y="160" width="62" height="18" fill="#FF0000"/><rect x="321" y="161" width="60" height="16" fill="#fff"/></g><text x="322.7" y="175.1" font-size="16.6" fill="#FF0000" textLength="56.6" lengthAdjust="spacingAndGlyphs">139.715</text><g shape-rendering="crispEdges"><rect x="981" y="54" width="10" height="1" fill="#FF0000"/><rect x="920" y="46" width="62" height="18" fill="#FF0000"/><rect x="921" y="47" width="60" height="16" fill="#fff"/></g><text x="922.7" y="61.1" font-size="16.6" fill="#FF0000" textLength="56.6" lengthAdjust="spacingAndGlyphs">142.659</text><g shape-rendering="crispEdges"><rect x="485" y="478" width="10" height="1" fill="#FF0000"/><rect x="424" y="469" width="62" height="19" fill="#FF0000"/><rect x="425" y="470" width="60" height="17" fill="#fff"/></g><text x="426.7" y="485.1" font-size="16.6" fill="#FF0000" textLength="56.6" lengthAdjust="spacingAndGlyphs">131.734</text><g shape-rendering="crispEdges"><rect x="1125" y="427" width="11" height="1" fill="#FF0000"/><rect x="1064" y="418" width="62" height="19" fill="#FF0000"/><rect x="1065" y="419" width="60" height="17" fill="#fff"/></g><text x="1066.7" y="434.1" font-size="16.6" fill="#FF0000" textLength="56.6" lengthAdjust="spacingAndGlyphs">133.029</text><g shape-rendering="crispEdges"><rect x="928" y="316" width="10" height="1" fill="#FF0000"/><rect x="938" y="304" width="74" height="25" fill="#FF0000"/><rect x="939" y="305" width="72" height="23" fill="#fff"/></g><text x="940.3" y="325.1" font-size="23.2" fill="#FF0000" textLength="69.4" lengthAdjust="spacingAndGlyphs">135.905</text><text x="1481.8" y="311.2" font-size="19.6" fill="#00FF00" font-weight="300" font-family='"Liberation Serif","Noto Serif CJK SC",serif' id="cn" textLength="105.4" lengthAdjust="spacing">多空转折点</text><g shape-rendering="crispEdges"><g clip-path="url(#c2)"><rect x="7" y="674" width="1" height="6" fill="#C0C0C0"/><rect x="23" y="671" width="1" height="4" fill="#C0C0C0"/><rect x="31" y="666" width="1" height="9" fill="#C0C0C0"/><rect x="39" y="664" width="1" height="11" fill="#C0C0C0"/><rect x="47" y="662" width="1" height="13" fill="#C0C0C0"/><rect x="55" y="663" width="1" height="12" fill="#C0C0C0"/><rect x="63" y="663" width="1" height="12" fill="#C0C0C0"/><rect x="71" y="668" width="1" height="7" fill="#C0C0C0"/><rect x="87" y="674" width="1" height="4" fill="#C0C0C0"/><rect x="95" y="674" width="1" height="7" fill="#C0C0C0"/><rect x="103" y="674" width="1" height="10" fill="#C0C0C0"/><rect x="111" y="674" width="1" height="12" fill="#C0C0C0"/><rect x="119" y="674" width="1" height="12" fill="#C0C0C0"/><rect x="127" y="674" width="1" height="14" fill="#C0C0C0"/><rect x="135" y="674" width="1" height="14" fill="#C0C0C0"/><rect x="143" y="674" width="1" height="6" fill="#C0C0C0"/><rect x="151" y="674" width="1" height="6" fill="#C0C0C0"/><rect x="159" y="674" width="1" height="8" fill="#C0C0C0"/><rect x="167" y="674" width="1" height="10" fill="#C0C0C0"/><rect x="175" y="674" width="1" height="12" fill="#C0C0C0"/><rect x="183" y="674" width="1" height="21" fill="#C0C0C0"/><rect x="191" y="674" width="1" height="24" fill="#C0C0C0"/><rect x="199" y="674" width="1" height="24" fill="#C0C0C0"/><rect x="207" y="674" width="1" height="22" fill="#C0C0C0"/><rect x="215" y="674" width="1" height="20" fill="#C0C0C0"/><rect x="223" y="674" width="1" height="24" fill="#C0C0C0"/><rect x="231" y="674" width="1" height="28" fill="#C0C0C0"/><rect x="239" y="674" width="1" height="30" fill="#C0C0C0"/><rect x="247" y="674" width="1" height="36" fill="#C0C0C0"/><rect x="255" y="674" width="1" height="42" fill="#C0C0C0"/><rect x="263" y="674" width="1" height="41" fill="#C0C0C0"/><rect x="271" y="674" width="1" height="34" fill="#C0C0C0"/><rect x="279" y="674" width="1" height="31" fill="#C0C0C0"/><rect x="287" y="674" width="1" height="29" fill="#C0C0C0"/><rect x="295" y="674" width="1" height="29" fill="#C0C0C0"/><rect x="303" y="674" width="1" height="27" fill="#C0C0C0"/><rect x="311" y="674" width="1" height="24" fill="#C0C0C0"/><rect x="319" y="674" width="1" height="18" fill="#C0C0C0"/><rect x="327" y="674" width="1" height="14" fill="#C0C0C0"/><rect x="335" y="674" width="1" height="10" fill="#C0C0C0"/><rect x="343" y="674" width="1" height="4" fill="#C0C0C0"/><rect x="359" y="666" width="1" height="9" fill="#C0C0C0"/><rect x="367" y="648" width="1" height="27" fill="#C0C0C0"/><rect x="375" y="634" width="1" height="41" fill="#C0C0C0"/><rect x="383" y="622" width="1" height="53" fill="#C0C0C0"/><rect x="391" y="607" width="1" height="68" fill="#C0C0C0"/><rect x="399" y="594" width="1" height="81" fill="#C0C0C0"/><rect x="407" y="590" width="1" height="85" fill="#C0C0C0"/><rect x="415" y="593" width="1" height="82" fill="#C0C0C0"/><rect x="423" y="600" width="1" height="75" fill="#C0C0C0"/><rect x="431" y="613" width="1" height="62" fill="#C0C0C0"/><rect x="439" y="624" width="1" height="51" fill="#C0C0C0"/><rect x="447" y="634" width="1" height="41" fill="#C0C0C0"/><rect x="455" y="635" width="1" height="40" fill="#C0C0C0"/><rect x="463" y="640" width="1" height="35" fill="#C0C0C0"/><rect x="471" y="647" width="1" height="28" fill="#C0C0C0"/><rect x="479" y="659" width="1" height="16" fill="#C0C0C0"/><rect x="487" y="672" width="1" height="3" fill="#C0C0C0"/><rect x="495" y="674" width="1" height="7" fill="#C0C0C0"/><rect x="503" y="674" width="1" height="9" fill="#C0C0C0"/><rect x="511" y="674" width="1" height="11" fill="#C0C0C0"/><rect x="519" y="674" width="1" height="14" fill="#C0C0C0"/><rect x="527" y="674" width="1" height="16" fill="#C0C0C0"/><rect x="535" y="674" width="1" height="20" fill="#C0C0C0"/><rect x="543" y="674" width="1" height="23" fill="#C0C0C0"/><rect x="551" y="674" width="1" height="24" fill="#C0C0C0"/><rect x="559" y="674" width="1" height="20" fill="#C0C0C0"/><rect x="567" y="674" width="1" height="16" fill="#C0C0C0"/><rect x="575" y="674" width="1" height="12" fill="#C0C0C0"/><rect x="583" y="674" width="1" height="8" fill="#C0C0C0"/><rect x="591" y="674" width="1" height="5" fill="#C0C0C0"/><rect x="599" y="674" width="1" height="2" fill="#C0C0C0"/><rect x="607" y="672" width="1" height="3" fill="#C0C0C0"/><rect x="615" y="667" width="1" height="8" fill="#C0C0C0"/><rect x="623" y="663" width="1" height="12" fill="#C0C0C0"/><rect x="631" y="661" width="1" height="14" fill="#C0C0C0"/><rect x="639" y="659" width="1" height="16" fill="#C0C0C0"/><rect x="647" y="660" width="1" height="15" fill="#C0C0C0"/><rect x="655" y="660" width="1" height="15" fill="#C0C0C0"/><rect x="663" y="661" width="1" height="14" fill="#C0C0C0"/><rect x="671" y="662" width="1" height="13" fill="#C0C0C0"/><rect x="679" y="663" width="1" height="12" fill="#C0C0C0"/><rect x="687" y="663" width="1" height="12" fill="#C0C0C0"/><rect x="695" y="659" width="1" height="16" fill="#C0C0C0"/><rect x="703" y="655" width="1" height="20" fill="#C0C0C0"/><rect x="711" y="651" width="1" height="24" fill="#C0C0C0"/><rect x="719" y="649" width="1" height="26" fill="#C0C0C0"/><rect x="727" y="650" width="1" height="25" fill="#C0C0C0"/><rect x="735" y="651" width="1" height="24" fill="#C0C0C0"/><rect x="743" y="651" width="1" height="24" fill="#C0C0C0"/><rect x="751" y="652" width="1" height="23" fill="#C0C0C0"/><rect x="759" y="649" width="1" height="26" fill="#C0C0C0"/><rect x="767" y="644" width="1" height="31" fill="#C0C0C0"/><rect x="775" y="635" width="1" height="40" fill="#C0C0C0"/><rect x="783" y="629" width="1" height="46" fill="#C0C0C0"/><rect x="791" y="624" width="1" height="51" fill="#C0C0C0"/><rect x="799" y="622" width="1" height="53" fill="#C0C0C0"/><rect x="807" y="621" width="1" height="54" fill="#C0C0C0"/><rect x="815" y="619" width="1" height="56" fill="#C0C0C0"/><rect x="823" y="620" width="1" height="55" fill="#C0C0C0"/><rect x="831" y="622" width="1" height="53" fill="#C0C0C0"/><rect x="839" y="623" width="1" height="52" fill="#C0C0C0"/><rect x="847" y="622" width="1" height="53" fill="#C0C0C0"/><rect x="855" y="621" width="1" height="54" fill="#C0C0C0"/><rect x="863" y="618" width="1" height="57" fill="#C0C0C0"/><rect x="871" y="618" width="1" height="57" fill="#C0C0C0"/><rect x="879" y="618" width="1" height="57" fill="#C0C0C0"/><rect x="887" y="622" width="1" height="53" fill="#C0C0C0"/><rect x="895" y="623" width="1" height="52" fill="#C0C0C0"/><rect x="903" y="627" width="1" height="48" fill="#C0C0C0"/><rect x="911" y="627" width="1" height="48" fill="#C0C0C0"/><rect x="919" y="633" width="1" height="42" fill="#C0C0C0"/><rect x="927" y="637" width="1" height="38" fill="#C0C0C0"/><rect x="935" y="642" width="1" height="33" fill="#C0C0C0"/><rect x="943" y="640" width="1" height="35" fill="#C0C0C0"/><rect x="951" y="639" width="1" height="36" fill="#C0C0C0"/><rect x="959" y="635" width="1" height="40" fill="#C0C0C0"/><rect x="967" y="634" width="1" height="41" fill="#C0C0C0"/><rect x="975" y="630" width="1" height="45" fill="#C0C0C0"/><rect x="983" y="626" width="1" height="49" fill="#C0C0C0"/><rect x="991" y="622" width="1" height="53" fill="#C0C0C0"/><rect x="999" y="620" width="1" height="55" fill="#C0C0C0"/><rect x="1007" y="624" width="1" height="51" fill="#C0C0C0"/><rect x="1015" y="625" width="1" height="50" fill="#C0C0C0"/><rect x="1023" y="628" width="1" height="47" fill="#C0C0C0"/><rect x="1031" y="635" width="1" height="40" fill="#C0C0C0"/><rect x="1039" y="651" width="1" height="24" fill="#C0C0C0"/><rect x="1047" y="661" width="1" height="14" fill="#C0C0C0"/><rect x="1055" y="674" width="1" height="3" fill="#C0C0C0"/><rect x="1063" y="674" width="1" height="17" fill="#C0C0C0"/><rect x="1071" y="674" width="1" height="27" fill="#C0C0C0"/><rect x="1079" y="674" width="1" height="34" fill="#C0C0C0"/><rect x="1087" y="674" width="1" height="41" fill="#C0C0C0"/><rect x="1095" y="674" width="1" height="43" fill="#C0C0C0"/><rect x="1103" y="674" width="1" height="46" fill="#C0C0C0"/><rect x="1111" y="674" width="1" height="51" fill="#C0C0C0"/><rect x="1119" y="674" width="1" height="54" fill="#C0C0C0"/><rect x="1127" y="674" width="1" height="60" fill="#C0C0C0"/><rect x="1135" y="674" width="1" height="64" fill="#C0C0C0"/><rect x="1143" y="674" width="1" height="68" fill="#C0C0C0"/><rect x="1151" y="674" width="1" height="67" fill="#C0C0C0"/><rect x="1159" y="674" width="1" height="65" fill="#C0C0C0"/><rect x="1167" y="674" width="1" height="63" fill="#C0C0C0"/><rect x="1175" y="674" width="1" height="56" fill="#C0C0C0"/><rect x="1183" y="674" width="1" height="49" fill="#C0C0C0"/><rect x="1191" y="674" width="1" height="42" fill="#C0C0C0"/><rect x="1199" y="674" width="1" height="36" fill="#C0C0C0"/><rect x="1207" y="674" width="1" height="31" fill="#C0C0C0"/><rect x="1215" y="674" width="1" height="25" fill="#C0C0C0"/><rect x="1223" y="674" width="1" height="17" fill="#C0C0C0"/><rect x="1231" y="674" width="1" height="15" fill="#C0C0C0"/><rect x="1239" y="674" width="1" height="11" fill="#C0C0C0"/><rect x="1247" y="674" width="1" height="6" fill="#C0C0C0"/><rect x="1263" y="670" width="1" height="5" fill="#C0C0C0"/><rect x="1271" y="667" width="1" height="8" fill="#C0C0C0"/><rect x="1279" y="669" width="1" height="6" fill="#C0C0C0"/><rect x="1287" y="669" width="1" height="6" fill="#C0C0C0"/><rect x="1295" y="673" width="1" height="2" fill="#C0C0C0"/><rect x="1311" y="673" width="1" height="2" fill="#C0C0C0"/><rect x="1319" y="673" width="1" height="2" fill="#C0C0C0"/><rect x="1327" y="673" width="1" height="2" fill="#C0C0C0"/><rect x="1335" y="672" width="1" height="3" fill="#C0C0C0"/><rect x="1343" y="670" width="1" height="5" fill="#C0C0C0"/><rect x="1351" y="672" width="1" height="3" fill="#C0C0C0"/><rect x="1359" y="672" width="1" height="3" fill="#C0C0C0"/><rect x="1367" y="673" width="1" height="2" fill="#C0C0C0"/><rect x="1383" y="674" width="1" height="5" fill="#C0C0C0"/><rect x="1391" y="674" width="1" height="10" fill="#C0C0C0"/><rect x="1399" y="674" width="1" height="11" fill="#C0C0C0"/><rect x="1407" y="674" width="1" height="15" fill="#C0C0C0"/><rect x="1415" y="674" width="1" height="16" fill="#C0C0C0"/><rect x="1423" y="674" width="1" height="10" fill="#C0C0C0"/><rect x="1431" y="674" width="1" height="12" fill="#C0C0C0"/><rect x="1439" y="674" width="1" height="11" fill="#C0C0C0"/><path d="M-1 715h1v1h-1zM0 714h2v1h-2zM5 711h1v1h-1zM6 710h1v1h-1zM7 709h1v1h-1zM11 706h1v1h-1zM12 705h1v1h-1zM13 704h1v1h-1zM17 700h1v1h-1zM18 699h1v1h-1zM19 698h1v1h-1zM23 694h1v1h-1zM24 693h2v1h-2zM29 690h1v1h-1zM30 689h1v1h-1zM31 688h1v1h-1zM35 686h1v1h-1zM36 685h1v1h-1zM37 684h1v1h-1zM41 682h1v1h-1zM42 681h1v1h-1zM43 680h1v1h-1zM47 677h2v1h-2zM49 676h1v1h-1zM53 674h2v1h-2zM55 673h1v1h-1zM59 671h2v1h-2zM61 670h1v1h-1zM65 669h1v1h-1zM66 668h2v1h-2zM71 667h3v1h-3zM77 666h3v1h-3zM83 666h1v1h-1zM84 667h2v1h-2zM89 667h3v1h-3zM95 668h3v1h-3zM101 669h1v1h-1zM102 670h2v1h-2zM107 671h1v1h-1zM108 672h2v1h-2zM113 673h1v1h-1zM114 674h2v1h-2zM119 675h2v1h-2zM121 676h1v1h-1zM125 677h1v1h-1zM126 678h2v1h-2zM131 679h1v1h-1zM132 680h2v1h-2zM137 681h1v1h-1zM138 682h2v1h-2zM143 683h3v1h-3zM149 683h3v1h-3zM155 683h1v1h-1zM156 684h2v1h-2zM161 684h3v1h-3zM167 684h3v1h-3zM173 685h3v1h-3zM179 685h1v1h-1zM180 686h2v1h-2zM185 686h3v1h-3zM191 687h3v1h-3zM197 688h3v1h-3zM203 689h3v1h-3zM209 690h3v1h-3zM215 691h3v1h-3zM221 692h3v1h-3zM227 693h1v1h-1zM228 694h2v1h-2zM233 695h1v1h-1zM234 696h2v1h-2zM239 697h3v1h-3zM245 698h1v1h-1zM246 699h2v1h-2zM251 700h1v1h-1zM252 701h2v1h-2zM257 702h1v1h-1zM258 703h2v1h-2zM263 704h3v1h-3zM269 705h3v1h-3zM275 705h1v1h-1zM276 706h2v1h-2zM281 706h3v1h-3zM287 707h3v1h-3zM293 707h3v1h-3zM299 707h3v1h-3zM305 707h3v1h-3zM311 706h3v1h-3zM317 705h1v1h-1zM318 704h2v1h-2zM323 703h1v1h-1zM324 702h2v1h-2zM329 700h3v1h-3zM335 698h2v1h-2zM337 697h1v1h-1zM341 696h1v1h-1zM342 695h2v1h-2zM347 693h2v1h-2zM349 692h1v1h-1zM353 690h1v1h-1zM354 689h2v1h-2zM359 686h1v1h-1zM360 685h2v1h-2zM365 682h2v1h-2zM367 681h1v1h-1zM371 678h1v1h-1zM372 677h1v1h-1zM373 676h1v1h-1zM377 671h1v2h-1zM378 670h1v1h-1zM381 666h1v1h-1zM382 665h1v1h-1zM383 664h1v1h-1zM387 659h1v2h-1zM388 658h1v1h-1zM392 653h1v2h-1zM393 652h1v1h-1zM396 648h1v1h-1zM397 647h1v1h-1zM398 646h1v1h-1zM401 641h1v2h-1zM402 640h1v1h-1zM405 636h1v1h-1zM406 635h1v1h-1zM407 634h1v1h-1zM410 630h1v1h-1zM411 629h1v1h-1zM412 628h1v1h-1zM415 624h1v1h-1zM416 623h1v1h-1zM417 622h1v1h-1zM421 618h1v1h-1zM422 617h1v1h-1zM423 616h1v1h-1zM427 613h1v1h-1zM428 612h2v1h-2zM433 609h3v1h-3zM439 607h3v1h-3zM445 607h3v1h-3zM451 608h3v1h-3zM457 610h2v1h-2zM459 611h1v1h-1zM463 613h1v1h-1zM464 614h2v1h-2zM469 617h2v1h-2zM471 618h1v1h-1zM475 622h1v1h-1zM476 623h1v1h-1zM477 624h1v1h-1zM481 628h1v1h-1zM482 629h1v1h-1zM483 630h1v1h-1zM486 634h1v1h-1zM487 635h1v1h-1zM488 636h1v1h-1zM492 640h1v1h-1zM493 641h1v1h-1zM494 642h1v1h-1zM498 646h1v1h-1zM499 647h1v1h-1zM500 648h1v1h-1zM504 652h1v1h-1zM505 653h1v1h-1zM506 654h1v1h-1zM510 658h1v1h-1zM511 659h1v1h-1zM512 660h1v1h-1zM516 663h2v1h-2zM518 664h1v1h-1zM522 667h1v1h-1zM523 668h1v1h-1zM524 669h1v1h-1zM528 672h2v1h-2zM530 673h1v1h-1zM534 676h1v1h-1zM535 677h1v1h-1zM536 678h1v1h-1zM540 680h1v1h-1zM541 681h2v1h-2zM546 683h1v1h-1zM547 684h2v1h-2zM552 686h1v1h-1zM553 687h2v1h-2zM558 689h1v1h-1zM559 690h2v1h-2zM564 691h3v1h-3zM570 691h3v1h-3zM576 691h3v1h-3zM582 690h3v1h-3zM588 689h3v1h-3zM594 689h2v1h-2zM596 688h1v1h-1zM600 688h2v1h-2zM602 687h1v1h-1zM606 686h3v1h-3zM612 684h1v1h-1zM613 683h2v1h-2zM618 681h1v1h-1zM619 680h2v1h-2zM624 678h1v1h-1zM625 677h2v1h-2zM630 675h1v1h-1zM631 674h2v1h-2zM636 672h1v1h-1zM637 671h2v1h-2zM642 669h2v1h-2zM644 668h1v1h-1zM648 667h1v1h-1zM649 666h2v1h-2zM654 664h3v1h-3zM660 663h2v1h-2zM662 662h1v1h-1zM666 662h2v1h-2zM668 661h1v1h-1zM672 661h3v1h-3zM678 660h3v1h-3zM684 660h3v1h-3zM690 660h3v1h-3zM696 660h3v1h-3zM702 659h3v1h-3zM708 658h3v1h-3zM714 658h2v1h-2zM716 657h1v1h-1zM720 657h3v1h-3zM726 656h3v1h-3zM732 655h3v1h-3zM738 655h2v1h-2zM740 654h1v1h-1zM744 654h2v1h-2zM746 653h1v1h-1zM750 652h3v1h-3zM756 651h3v1h-3zM762 650h3v1h-3zM768 649h2v1h-2zM770 648h1v1h-1zM774 647h3v1h-3zM780 645h2v1h-2zM782 644h1v1h-1zM786 643h3v1h-3zM792 642h1v1h-1zM793 641h2v1h-2zM798 639h3v1h-3zM804 637h1v1h-1zM805 636h2v1h-2zM810 634h2v1h-2zM812 633h1v1h-1zM816 632h1v1h-1zM817 631h2v1h-2zM822 629h1v1h-1zM823 628h2v1h-2zM828 626h2v1h-2zM830 625h1v1h-1zM834 625h2v1h-2zM836 624h1v1h-1zM840 624h1v1h-1zM841 623h2v1h-2zM846 621h3v1h-3zM852 621h3v1h-3zM858 621h2v1h-2zM860 620h1v1h-1zM864 620h3v1h-3zM870 619h3v1h-3zM876 619h3v1h-3zM882 619h3v1h-3zM888 619h3v1h-3zM894 620h3v1h-3zM900 620h3v1h-3zM906 620h2v1h-2zM908 621h1v1h-1zM912 621h3v1h-3zM918 622h3v1h-3zM924 623h3v1h-3zM930 624h2v1h-2zM932 625h1v1h-1zM936 626h1v1h-1zM937 627h2v1h-2zM942 629h3v1h-3zM948 630h2v1h-2zM950 631h1v1h-1zM954 631h2v1h-2zM956 632h1v1h-1zM960 632h3v1h-3zM966 633h3v1h-3zM972 634h3v1h-3zM978 634h3v1h-3zM984 634h3v1h-3zM990 633h3v1h-3zM996 632h2v1h-2zM998 631h1v1h-1zM1002 630h3v1h-3zM1008 629h1v1h-1zM1009 628h2v1h-2zM1014 626h3v1h-3zM1020 626h3v1h-3zM1026 626h3v1h-3zM1032 626h2v1h-2zM1034 627h1v1h-1zM1038 628h3v1h-3zM1044 630h1v1h-1zM1045 631h2v1h-2zM1050 634h2v1h-2zM1052 635h1v1h-1zM1056 638h1v1h-1zM1057 639h1v1h-1zM1058 640h1v1h-1zM1062 644h1v1h-1zM1063 645h1v1h-1zM1064 646h1v1h-1zM1067 650h1v1h-1zM1068 651h1v1h-1zM1069 652h1v1h-1zM1073 656h1v2h-1zM1074 658h1v1h-1zM1077 662h1v1h-1zM1078 663h1v1h-1zM1079 664h1v1h-1zM1082 668h1v1h-1zM1083 669h1v1h-1zM1084 670h1v1h-1zM1087 674h1v1h-1zM1088 675h1v1h-1zM1089 676h1v1h-1zM1092 680h1v1h-1zM1093 681h1v1h-1zM1094 682h1v1h-1zM1098 686h1v1h-1zM1099 687h1v2h-1zM1103 692h1v1h-1zM1104 693h1v1h-1zM1105 694h1v1h-1zM1108 698h1v1h-1zM1109 699h1v1h-1zM1110 700h1v1h-1zM1114 704h1v1h-1zM1115 705h1v1h-1zM1116 706h1v1h-1zM1120 710h2v1h-2zM1122 711h1v1h-1zM1126 714h1v1h-1zM1127 715h1v1h-1zM1128 716h1v1h-1zM1132 718h1v1h-1zM1133 719h2v1h-2zM1138 722h2v1h-2zM1140 723h1v1h-1zM1144 725h1v1h-1zM1145 726h2v1h-2zM1150 728h1v1h-1zM1151 729h2v1h-2zM1156 731h2v1h-2zM1158 732h1v1h-1zM1162 733h3v1h-3zM1168 734h3v1h-3zM1174 735h3v1h-3zM1180 734h3v1h-3zM1186 734h2v1h-2zM1188 733h1v1h-1zM1192 733h1v1h-1zM1193 732h2v1h-2zM1198 730h3v1h-3zM1204 728h2v1h-2zM1206 727h1v1h-1zM1210 725h2v1h-2zM1212 724h1v1h-1zM1216 721h2v1h-2zM1218 720h1v1h-1zM1222 717h1v1h-1zM1223 716h1v1h-1zM1224 715h1v1h-1zM1228 712h2v1h-2zM1230 711h1v1h-1zM1234 708h2v1h-2zM1236 707h1v1h-1zM1240 704h2v1h-2zM1242 703h1v1h-1zM1246 701h1v1h-1zM1247 700h1v1h-1zM1248 699h1v1h-1zM1252 696h2v1h-2zM1254 695h1v1h-1zM1258 692h2v1h-2zM1260 691h1v1h-1zM1264 688h2v1h-2zM1266 687h1v1h-1zM1270 685h1v1h-1zM1271 684h2v1h-2zM1276 682h1v1h-1zM1277 681h2v1h-2zM1282 679h2v1h-2zM1284 678h1v1h-1zM1288 677h1v1h-1zM1289 676h2v1h-2zM1294 674h3v1h-3zM1300 673h3v1h-3zM1306 673h2v1h-2zM1308 672h1v1h-1zM1312 672h3v1h-3zM1318 671h3v1h-3zM1324 671h3v1h-3zM1330 671h3v1h-3zM1336 671h3v1h-3zM1342 672h3v1h-3zM1348 672h3v1h-3zM1354 672h2v1h-2zM1356 673h1v1h-1zM1360 673h3v1h-3zM1366 673h3v1h-3zM1372 673h3v1h-3zM1378 673h3v1h-3zM1384 673h3v1h-3zM1390 674h3v1h-3zM1396 675h3v1h-3zM1402 676h3v1h-3zM1408 677h1v1h-1zM1409 678h2v1h-2zM1414 680h3v1h-3zM1420 681h2v1h-2zM1422 682h1v1h-1zM1426 682h2v1h-2zM1428 683h1v1h-1zM1432 683h3v1h-3zM1438 684h2v1h-2z" fill="#FF0000"/></g><g clip-path="url(#c3)"><line x1="2" y1="788.5" x2="1689" y2="788.5" stroke="#C0C0C0" stroke-width="1" stroke-dasharray="3 3"/><line x1="2" y1="839.5" x2="1689" y2="839.5" stroke="#C0C0C0" stroke-width="1" stroke-dasharray="3 3"/><line x1="2" y1="900.5" x2="1689" y2="900.5" stroke="#C0C0C0" stroke-width="1" stroke-dasharray="3 3"/><path d="M-1 830h19v1h-19zM18 831h4v1h-4zM22 832h3v1h-3zM25 831h2v1h-2zM27 830h2v1h-2zM29 829h2v1h-2zM31 828h1v1h-1zM32 829h2v1h-2zM34 830h2v1h-2zM36 831h1v1h-1zM37 832h2v1h-2zM39 833h10v1h-10zM49 834h2v1h-2zM51 835h2v1h-2zM53 836h2v1h-2zM55 837h5v1h-5zM60 836h4v1h-4zM64 837h2v1h-2zM66 838h1v1h-1zM67 839h1v1h-1zM68 840h2v1h-2zM70 841h1v1h-1zM71 842h1v1h-1zM72 843h1v2h-1zM73 845h1v2h-1zM74 847h1v1h-1zM75 848h1v2h-1zM76 850h1v1h-1zM77 851h1v2h-1zM78 853h1v2h-1zM79 855h2v1h-2zM81 854h2v1h-2zM83 853h2v1h-2zM85 852h2v1h-2zM87 851h3v1h-3zM90 850h4v1h-4zM94 849h3v1h-3zM97 850h3v1h-3zM100 851h2v1h-2zM102 852h3v1h-3zM105 851h3v1h-3zM108 850h2v1h-2zM110 849h3v1h-3zM113 848h2v1h-2zM115 847h2v1h-2zM117 846h2v1h-2zM119 845h1v1h-1zM120 846h2v1h-2zM122 847h2v1h-2zM124 848h1v1h-1zM125 849h2v1h-2zM127 850h3v1h-3zM130 849h4v1h-4zM134 848h2v1h-2zM135 847h1v1h-1zM136 844h1v3h-1zM137 842h1v2h-1zM138 839h1v3h-1zM139 836h1v3h-1zM140 833h1v3h-1zM141 831h1v2h-1zM142 828h1v3h-1zM143 826h1v3h-1zM144 828h1v2h-1zM145 830h1v2h-1zM146 832h1v2h-1zM147 834h1v2h-1zM148 836h1v2h-1zM149 838h1v2h-1zM150 840h1v2h-1zM151 842h2v1h-2zM153 843h2v1h-2zM155 844h2v1h-2zM157 845h2v1h-2zM159 846h3v1h-3zM162 847h4v1h-4zM166 848h4v1h-4zM170 849h4v1h-4zM174 850h2v1h-2zM176 851h1v2h-1zM177 853h1v2h-1zM178 855h1v1h-1zM179 856h1v2h-1zM180 858h1v1h-1zM181 859h1v2h-1zM182 861h1v2h-1zM183 863h1v1h-1zM184 862h1v1h-1zM185 861h1v1h-1zM186 860h1v1h-1zM187 859h1v1h-1zM188 858h1v1h-1zM189 857h1v1h-1zM190 856h1v1h-1zM191 855h1v1h-1zM192 854h1v1h-1zM193 853h1v1h-1zM194 852h1v1h-1zM195 850h1v2h-1zM196 849h1v1h-1zM197 848h1v1h-1zM198 847h1v1h-1zM199 846h2v1h-2zM201 845h3v1h-3zM204 844h2v1h-2zM206 843h6v1h-6zM212 844h4v1h-4zM216 845h1v2h-1zM217 847h1v1h-1zM218 848h1v1h-1zM219 849h1v2h-1zM220 851h1v1h-1zM221 852h1v1h-1zM222 853h1v2h-1zM223 855h2v1h-2zM225 856h2v1h-2zM227 857h2v1h-2zM229 858h2v1h-2zM231 859h1v1h-1zM232 858h2v1h-2zM234 857h1v1h-1zM235 856h1v1h-1zM236 855h2v1h-2zM238 854h1v1h-1zM239 853h1v1h-1zM240 854h1v1h-1zM241 855h1v2h-1zM242 857h1v1h-1zM243 858h1v1h-1zM244 859h1v1h-1zM245 860h1v2h-1zM246 862h1v1h-1zM247 863h2v1h-2zM249 864h3v1h-3zM252 865h2v1h-2zM254 866h2v1h-2zM256 864h1v2h-1zM257 862h1v2h-1zM258 860h1v2h-1zM259 858h1v2h-1zM260 856h1v2h-1zM261 854h1v2h-1zM262 852h1v2h-1zM263 851h1v1h-1zM264 849h1v2h-1zM265 848h1v1h-1zM266 847h1v1h-1zM267 845h1v2h-1zM268 844h1v1h-1zM269 843h1v1h-1zM270 841h1v2h-1zM271 840h2v1h-2zM273 841h2v1h-2zM275 842h2v1h-2zM277 843h2v1h-2zM279 844h5v1h-5zM284 845h4v1h-4zM288 846h2v1h-2zM290 847h2v1h-2zM292 848h1v1h-1zM293 849h2v1h-2zM295 850h2v1h-2zM297 849h2v1h-2zM299 848h2v1h-2zM301 847h2v1h-2zM303 846h5v1h-5zM308 845h4v1h-4zM312 843h1v2h-1zM313 842h1v1h-1zM314 841h1v1h-1zM315 839h1v2h-1zM316 838h1v1h-1zM317 837h1v1h-1zM318 835h1v2h-1zM319 834h2v1h-2zM321 835h3v1h-3zM324 836h2v1h-2zM326 837h3v1h-3zM329 836h3v1h-3zM332 835h2v1h-2zM334 834h3v1h-3zM337 833h3v1h-3zM340 832h2v1h-2zM342 831h6v1h-6zM348 830h4v1h-4zM352 828h1v2h-1zM353 827h1v1h-1zM354 825h1v2h-1zM355 824h1v1h-1zM356 822h1v2h-1zM357 821h1v1h-1zM358 819h1v2h-1zM359 817h1v2h-1zM360 815h1v2h-1zM361 813h1v2h-1zM362 811h1v2h-1zM363 809h1v2h-1zM364 807h1v2h-1zM365 805h1v2h-1zM366 803h1v2h-1zM367 802h10v1h-10zM377 801h3v1h-3zM380 800h2v1h-2zM382 799h2v1h-2zM384 798h1v1h-1zM385 797h1v1h-1zM386 796h2v1h-2zM388 795h1v1h-1zM389 794h1v1h-1zM390 793h1v1h-1zM391 792h3v1h-3zM394 791h4v1h-4zM398 790h2v1h-2zM399 791h1v1h-1zM400 792h1v2h-1zM401 794h1v2h-1zM402 796h1v3h-1zM403 799h1v2h-1zM404 801h1v3h-1zM405 804h1v2h-1zM406 806h1v2h-1zM407 808h1v2h-1zM408 810h1v2h-1zM409 812h1v1h-1zM410 813h1v1h-1zM411 814h1v2h-1zM412 816h1v1h-1zM413 817h1v1h-1zM414 818h1v2h-1zM415 820h1v1h-1zM416 821h1v1h-1zM417 822h1v1h-1zM418 823h1v1h-1zM419 824h1v2h-1zM420 826h1v1h-1zM421 827h1v1h-1zM422 828h1v1h-1zM423 829h1v1h-1zM424 830h1v2h-1zM425 832h1v2h-1zM426 834h1v1h-1zM427 835h1v2h-1zM428 837h1v1h-1zM429 838h1v2h-1zM430 840h1v2h-1zM431 842h5v1h-5zM436 843h8v1h-8zM444 842h4v1h-4zM448 840h1v2h-1zM449 839h1v1h-1zM450 837h1v2h-1zM451 836h1v1h-1zM452 834h1v2h-1zM453 833h1v1h-1zM454 831h1v2h-1zM455 830h1v1h-1zM456 831h2v1h-2zM458 832h1v1h-1zM459 833h1v1h-1zM460 834h2v1h-2zM462 835h1v1h-1zM463 836h1v1h-1zM464 837h1v1h-1zM465 838h1v1h-1zM466 839h1v1h-1zM467 840h1v1h-1zM468 841h1v1h-1zM469 842h1v1h-1zM470 843h1v1h-1zM471 844h1v1h-1zM472 845h1v1h-1zM473 846h1v1h-1zM474 847h1v1h-1zM475 848h1v1h-1zM476 849h1v1h-1zM477 850h1v1h-1zM478 851h1v1h-1zM479 852h1v1h-1zM480 853h2v1h-2zM482 854h2v1h-2zM484 855h1v1h-1zM485 856h2v1h-2zM487 857h5v1h-5zM492 858h4v1h-4zM496 856h1v2h-1zM497 854h1v2h-1zM498 852h1v2h-1zM499 850h1v2h-1zM500 848h1v2h-1zM501 846h1v2h-1zM502 844h1v2h-1zM503 843h2v1h-2zM505 844h3v1h-3zM508 845h2v1h-2zM510 846h3v1h-3zM513 847h3v1h-3zM516 848h2v1h-2zM518 849h3v1h-3zM521 848h3v1h-3zM524 847h2v1h-2zM526 846h2v1h-2zM528 847h1v1h-1zM529 848h1v1h-1zM530 849h2v1h-2zM532 850h1v1h-1zM533 851h1v1h-1zM534 852h1v1h-1zM535 853h5v1h-5zM540 852h8v1h-8zM548 851h4v1h-4zM552 849h1v2h-1zM553 847h1v2h-1zM554 846h1v1h-1zM555 844h1v2h-1zM556 843h1v1h-1zM557 841h1v2h-1zM558 839h1v2h-1zM559 838h11v1h-11zM570 837h4v1h-4zM574 836h6v1h-6zM580 835h8v1h-8zM588 834h8v1h-8zM596 835h4v1h-4zM600 834h1v1h-1zM601 833h1v1h-1zM602 832h1v1h-1zM603 830h1v2h-1zM604 829h1v1h-1zM605 828h1v1h-1zM606 827h1v1h-1zM607 826h2v1h-2zM609 825h3v1h-3zM612 824h2v1h-2zM614 823h4v1h-4zM618 824h4v1h-4zM622 825h4v1h-4zM626 826h4v1h-4zM630 827h10v1h-10zM640 828h2v1h-2zM642 829h1v1h-1zM643 830h1v1h-1zM644 831h2v1h-2zM646 832h1v1h-1zM647 833h3v1h-3zM650 832h4v1h-4zM654 831h3v1h-3zM657 832h3v1h-3zM660 833h2v1h-2zM662 834h4v1h-4zM666 833h4v1h-4zM670 832h2v1h-2zM672 833h2v1h-2zM674 834h1v1h-1zM675 835h1v1h-1zM676 836h2v1h-2zM678 837h1v1h-1zM679 838h2v1h-2zM681 837h2v1h-2zM683 836h2v1h-2zM685 835h2v1h-2zM687 834h1v1h-1zM688 832h1v2h-1zM689 830h1v2h-1zM690 828h1v2h-1zM691 826h1v2h-1zM692 824h1v2h-1zM693 822h1v2h-1zM694 820h1v2h-1zM695 819h2v1h-2zM697 818h3v1h-3zM700 817h2v1h-2zM702 816h3v1h-3zM705 815h2v1h-2zM707 814h2v1h-2zM709 813h2v1h-2zM711 812h1v1h-1zM712 813h1v1h-1zM713 814h1v1h-1zM714 815h1v1h-1zM715 816h1v1h-1zM716 817h1v1h-1zM717 818h1v1h-1zM718 819h1v1h-1zM719 820h1v1h-1zM720 821h1v1h-1zM721 822h1v1h-1zM722 823h1v1h-1zM723 824h1v1h-1zM724 825h1v1h-1zM725 826h1v1h-1zM726 827h1v1h-1zM727 828h5v1h-5zM732 827h8v1h-8zM740 826h6v1h-6zM746 825h4v1h-4zM750 824h2v1h-2zM752 823h1v1h-1zM753 822h1v1h-1zM754 821h2v1h-2zM756 820h1v1h-1zM757 819h1v1h-1zM758 818h1v1h-1zM759 817h1v1h-1zM760 815h1v2h-1zM761 814h1v1h-1zM762 812h1v2h-1zM763 811h1v1h-1zM764 809h1v2h-1zM765 808h1v1h-1zM766 806h1v2h-1zM767 805h1v1h-1zM768 804h1v1h-1zM769 803h1v1h-1zM770 802h1v1h-1zM771 800h1v2h-1zM772 799h1v1h-1zM773 798h1v1h-1zM774 797h1v1h-1zM775 796h5v1h-5zM780 795h12v1h-12zM792 796h1v2h-1zM793 798h1v1h-1zM794 799h1v1h-1zM795 800h1v2h-1zM796 802h1v1h-1zM797 803h1v1h-1zM798 804h1v2h-1zM799 806h2v1h-2zM801 805h2v1h-2zM803 804h2v1h-2zM805 803h2v1h-2zM807 802h5v1h-5zM812 801h4v1h-4zM816 802h1v1h-1zM817 803h1v2h-1zM818 805h1v1h-1zM819 806h1v1h-1zM820 807h1v1h-1zM821 808h1v2h-1zM822 810h1v1h-1zM823 811h2v1h-2zM825 812h3v1h-3zM828 813h2v1h-2zM830 814h2v1h-2zM832 813h2v1h-2zM834 812h1v1h-1zM835 811h1v1h-1zM836 810h2v1h-2zM838 809h1v1h-1zM839 808h2v1h-2zM841 807h2v1h-2zM843 806h2v1h-2zM845 805h2v1h-2zM847 804h2v1h-2zM849 803h2v1h-2zM851 802h2v1h-2zM853 801h2v1h-2zM855 800h2v1h-2zM857 799h2v1h-2zM859 798h2v1h-2zM861 797h2v1h-2zM863 796h1v1h-1zM864 797h1v1h-1zM865 798h1v1h-1zM866 799h1v1h-1zM867 800h1v2h-1zM868 802h1v1h-1zM869 803h1v1h-1zM870 804h1v1h-1zM871 805h3v1h-3zM874 804h4v1h-4zM878 803h2v1h-2zM879 804h1v1h-1zM880 805h1v2h-1zM881 807h1v2h-1zM882 809h1v2h-1zM883 811h1v2h-1zM884 813h1v2h-1zM885 815h1v2h-1zM886 817h1v2h-1zM887 819h1v1h-1zM888 818h2v1h-2zM890 817h1v1h-1zM891 816h1v1h-1zM892 815h2v1h-2zM894 814h1v1h-1zM895 813h1v1h-1zM896 814h1v1h-1zM897 815h1v1h-1zM898 816h1v1h-1zM899 817h1v1h-1zM900 818h1v1h-1zM901 819h1v1h-1zM902 820h1v1h-1zM903 821h1v1h-1zM904 820h1v1h-1zM905 819h1v1h-1zM906 818h2v1h-2zM908 817h1v1h-1zM909 816h1v1h-1zM910 815h1v1h-1zM911 814h1v2h-1zM912 816h1v2h-1zM913 818h1v2h-1zM914 820h1v3h-1zM915 823h1v2h-1zM916 825h1v3h-1zM917 828h1v2h-1zM918 830h1v2h-1zM919 832h1v2h-1zM920 833h4v1h-4zM924 832h8v1h-8zM932 833h4v1h-4zM935 832h1v1h-1zM936 830h1v2h-1zM937 828h1v2h-1zM938 826h1v2h-1zM939 824h1v2h-1zM940 822h1v2h-1zM941 820h1v2h-1zM942 818h1v2h-1zM943 817h9v1h-9zM952 816h1v1h-1zM953 815h1v1h-1zM954 814h1v1h-1zM955 813h1v1h-1zM956 812h1v1h-1zM957 811h1v1h-1zM958 810h1v1h-1zM959 809h3v1h-3zM962 810h4v1h-4zM966 811h4v1h-4zM970 810h4v1h-4zM974 809h2v1h-2zM976 808h2v1h-2zM978 807h1v1h-1zM979 806h1v1h-1zM980 805h2v1h-2zM982 804h1v1h-1zM983 803h3v1h-3zM986 802h4v1h-4zM990 801h4v1h-4zM994 802h4v1h-4zM998 803h2v1h-2zM999 804h1v1h-1zM1000 805h1v2h-1zM1001 807h1v3h-1zM1002 810h1v2h-1zM1003 812h1v3h-1zM1004 815h1v2h-1zM1005 817h1v3h-1zM1006 820h1v2h-1zM1007 822h1v2h-1zM1008 822h2v1h-2zM1010 821h2v1h-2zM1012 820h1v1h-1zM1013 819h2v1h-2zM1015 818h1v1h-1zM1016 819h2v1h-2zM1018 820h1v1h-1zM1019 821h1v1h-1zM1020 822h2v1h-2zM1022 823h1v1h-1zM1023 824h1v1h-1zM1024 825h1v2h-1zM1025 827h1v2h-1zM1026 829h1v1h-1zM1027 830h1v2h-1zM1028 832h1v1h-1zM1029 833h1v2h-1zM1030 835h1v2h-1zM1031 837h1v2h-1zM1032 839h1v3h-1zM1033 842h1v4h-1zM1034 846h1v3h-1zM1035 849h1v3h-1zM1036 852h1v3h-1zM1037 855h1v4h-1zM1038 859h1v3h-1zM1039 862h1v2h-1zM1040 862h1v1h-1zM1041 861h1v1h-1zM1042 860h1v1h-1zM1043 858h1v2h-1zM1044 857h1v1h-1zM1045 856h1v1h-1zM1046 855h1v1h-1zM1047 854h1v1h-1zM1048 855h1v2h-1zM1049 857h1v2h-1zM1050 859h1v2h-1zM1051 861h1v2h-1zM1052 863h1v2h-1zM1053 865h1v2h-1zM1054 867h1v2h-1zM1055 869h5v1h-5zM1060 870h5v1h-5zM1065 869h3v1h-3zM1068 868h2v1h-2zM1070 867h6v1h-6zM1076 868h12v1h-12zM1088 867h2v1h-2zM1090 866h2v1h-2zM1092 865h1v1h-1zM1093 864h2v1h-2zM1095 863h3v1h-3zM1098 864h4v1h-4zM1102 865h2v1h-2zM1104 866h2v1h-2zM1106 867h1v1h-1zM1107 868h1v1h-1zM1108 869h2v1h-2zM1110 870h1v1h-1zM1111 871h5v1h-5zM1116 870h4v1h-4zM1120 871h1v1h-1zM1121 872h1v1h-1zM1122 873h2v1h-2zM1124 874h1v1h-1zM1125 875h1v1h-1zM1126 876h1v1h-1zM1127 877h3v1h-3zM1130 878h4v1h-4zM1134 879h10v1h-10zM1144 877h1v2h-1zM1145 876h1v1h-1zM1146 875h1v1h-1zM1147 873h1v2h-1zM1148 872h1v1h-1zM1149 871h1v1h-1zM1150 869h1v2h-1zM1151 868h5v1h-5zM1156 869h4v1h-4zM1160 868h2v1h-2zM1162 867h1v1h-1zM1163 866h1v1h-1zM1164 865h2v1h-2zM1166 864h1v1h-1zM1167 863h1v1h-1zM1168 861h1v2h-1zM1169 859h1v2h-1zM1170 857h1v2h-1zM1171 855h1v2h-1zM1172 853h1v2h-1zM1173 851h1v2h-1zM1174 849h1v2h-1zM1175 848h2v1h-2zM1177 847h3v1h-3zM1180 846h2v1h-2zM1182 845h3v1h-3zM1185 844h3v1h-3zM1188 843h2v1h-2zM1190 842h4v1h-4zM1194 843h4v1h-4zM1198 844h3v1h-3zM1201 843h2v1h-2zM1203 842h2v1h-2zM1205 841h2v1h-2zM1207 840h3v1h-3zM1210 839h4v1h-4zM1214 838h2v1h-2zM1216 836h1v2h-1zM1217 835h1v1h-1zM1218 833h1v2h-1zM1219 832h1v1h-1zM1220 830h1v2h-1zM1221 829h1v1h-1zM1222 827h1v2h-1zM1223 826h1v2h-1zM1224 828h1v2h-1zM1225 830h1v2h-1zM1226 832h1v2h-1zM1227 834h1v2h-1zM1228 836h1v2h-1zM1229 838h1v2h-1zM1230 840h1v2h-1zM1231 842h1v2h-1zM1232 842h1v1h-1zM1233 840h1v2h-1zM1234 839h1v1h-1zM1235 838h1v1h-1zM1236 837h1v1h-1zM1237 835h1v2h-1zM1238 834h1v1h-1zM1239 833h2v1h-2zM1241 832h2v1h-2zM1243 831h2v1h-2zM1245 830h2v1h-2zM1247 829h2v1h-2zM1249 828h2v1h-2zM1251 827h2v1h-2zM1253 826h2v1h-2zM1255 825h5v1h-5zM1260 826h12v1h-12zM1271 827h1v1h-1zM1272 828h1v2h-1zM1273 830h1v2h-1zM1274 832h1v2h-1zM1275 834h1v2h-1zM1276 836h1v2h-1zM1277 838h1v2h-1zM1278 840h1v2h-1zM1279 842h1v2h-1zM1280 842h2v1h-2zM1282 841h2v1h-2zM1284 840h1v1h-1zM1285 839h2v1h-2zM1287 838h1v1h-1zM1288 839h1v1h-1zM1289 840h1v2h-1zM1290 842h1v1h-1zM1291 843h1v1h-1zM1292 844h1v1h-1zM1293 845h1v2h-1zM1294 847h1v1h-1zM1295 848h2v1h-2zM1297 847h2v1h-2zM1299 846h2v1h-2zM1301 845h2v1h-2zM1303 844h10v1h-10zM1313 843h2v1h-2zM1315 842h2v1h-2zM1317 841h2v1h-2zM1319 840h5v1h-5zM1324 839h4v1h-4zM1328 837h1v2h-1zM1329 836h1v1h-1zM1330 835h1v1h-1zM1331 833h1v2h-1zM1332 832h1v1h-1zM1333 831h1v1h-1zM1334 829h1v2h-1zM1335 828h2v1h-2zM1337 829h2v1h-2zM1339 830h2v1h-2zM1341 831h2v1h-2zM1343 832h1v1h-1zM1344 833h1v1h-1zM1345 834h1v2h-1zM1346 836h1v1h-1zM1347 837h1v1h-1zM1348 838h1v1h-1zM1349 839h1v2h-1zM1350 841h1v1h-1zM1351 842h3v1h-3zM1354 841h4v1h-4zM1358 840h3v1h-3zM1361 841h3v1h-3zM1364 842h2v1h-2zM1366 843h3v1h-3zM1369 844h3v1h-3zM1372 845h2v1h-2zM1374 846h2v1h-2zM1376 847h1v1h-1zM1377 848h1v2h-1zM1378 850h1v1h-1zM1379 851h1v1h-1zM1380 852h1v1h-1zM1381 853h1v2h-1zM1382 855h1v1h-1zM1383 856h3v1h-3zM1386 857h4v1h-4zM1390 858h2v1h-2zM1392 857h1v1h-1zM1393 856h1v1h-1zM1394 855h2v1h-2zM1396 854h1v1h-1zM1397 853h1v1h-1zM1398 852h1v1h-1zM1399 851h1v1h-1zM1400 852h2v1h-2zM1402 853h1v1h-1zM1403 854h1v1h-1zM1404 855h2v1h-2zM1406 856h1v1h-1zM1407 857h2v1h-2zM1409 856h3v1h-3zM1412 855h2v1h-2zM1414 854h2v1h-2zM1415 853h1v1h-1zM1416 850h1v3h-1zM1417 846h1v4h-1zM1418 843h1v3h-1zM1419 840h1v3h-1zM1420 837h1v3h-1zM1421 833h1v4h-1zM1422 830h1v3h-1zM1423 828h1v3h-1zM1424 830h1v2h-1zM1425 832h1v3h-1zM1426 835h1v3h-1zM1427 838h1v2h-1zM1428 840h1v3h-1zM1429 843h1v3h-1zM1430 846h1v2h-1zM1431 848h1v2h-1zM1432 848h2v1h-2zM1434 847h1v1h-1zM1435 846h1v1h-1zM1436 845h2v1h-2zM1438 844h1v1h-1zM1439 843h1v1h-1z" fill="#1E90FF"/></g><rect x="0" y="25" width="1690" height="1" fill="#000"/><rect x="0" y="578" width="1690" height="1" fill="#000"/><rect x="0" y="580" width="1690" height="1" fill="#000"/><rect x="0" y="750" width="1690" height="1" fill="#000"/><rect x="0" y="752" width="1690" height="1" fill="#000"/><rect x="0" y="926" width="1690" height="1" fill="#000"/><rect x="1689" y="25" width="1" height="902" fill="#000"/><rect x="1689" y="579" width="1" height="1" fill="#fff"/><rect x="1689" y="751" width="1" height="1" fill="#fff"/><rect x="1735" y="23" width="1" height="920" fill="#E3E3E3"/></g><rect x="1690" y="47" width="2" height="1" fill="#000" shape-rendering="crispEdges"/><text x="1695.5" y="50.6" font-size="9" fill="#000" stroke="#000" stroke-width="0.15">142.835</text><rect x="1690" y="80" width="2" height="1" fill="#000" shape-rendering="crispEdges"/><text x="1695.5" y="83.60000000000001" font-size="9" fill="#000" stroke="#000" stroke-width="0.15">141.985</text><rect x="1690" y="113" width="2" height="1" fill="#000" shape-rendering="crispEdges"/><text x="1695.5" y="116.60000000000001" font-size="9" fill="#000" stroke="#000" stroke-width="0.15">141.135</text><rect x="1690" y="146" width="2" height="1" fill="#000" shape-rendering="crispEdges"/><text x="1695.5" y="149.6" font-size="9" fill="#000" stroke="#000" stroke-width="0.15">140.285</text><rect x="1690" y="179" width="2" height="1" fill="#000" shape-rendering="crispEdges"/><text x="1695.5" y="182.6" font-size="9" fill="#000" stroke="#000" stroke-width="0.15">139.435</text><rect x="1690" y="212" width="2" height="1" fill="#000" shape-rendering="crispEdges"/><text x="1695.5" y="215.6" font-size="9" fill="#000" stroke="#000" stroke-width="0.15">138.585</text><rect x="1690" y="245" width="2" height="1" fill="#000" shape-rendering="crispEdges"/><text x="1695.5" y="248.6" font-size="9" fill="#000" stroke="#000" stroke-width="0.15">137.735</text><rect x="1690" y="278" width="2" height="1" fill="#000" shape-rendering="crispEdges"/><text x="1695.5" y="281.59999999999997" font-size="9" fill="#000" stroke="#000" stroke-width="0.15">136.885</text><rect x="1690" y="311" width="2" height="1" fill="#000" shape-rendering="crispEdges"/><text x="1695.5" y="314.59999999999997" font-size="9" fill="#000" stroke="#000" stroke-width="0.15">136.035</text><rect x="1690" y="344" width="2" height="1" fill="#000" shape-rendering="crispEdges"/><text x="1695.5" y="347.59999999999997" font-size="9" fill="#000" stroke="#000" stroke-width="0.15">135.185</text><rect x="1690" y="377" width="2" height="1" fill="#000" shape-rendering="crispEdges"/><text x="1695.5" y="380.59999999999997" font-size="9" fill="#000" stroke="#000" stroke-width="0.15">134.335</text><rect x="1690" y="410" width="2" height="1" fill="#000" shape-rendering="crispEdges"/><text x="1695.5" y="413.59999999999997" font-size="9" fill="#000" stroke="#000" stroke-width="0.15">133.485</text><rect x="1690" y="443" width="2" height="1" fill="#000" shape-rendering="crispEdges"/><text x="1695.5" y="446.59999999999997" font-size="9" fill="#000" stroke="#000" stroke-width="0.15">132.635</text><rect x="1690" y="476" width="2" height="1" fill="#000" shape-rendering="crispEdges"/><text x="1695.5" y="479.59999999999997" font-size="9" fill="#000" stroke="#000" stroke-width="0.15">131.785</text><rect x="1690" y="509" width="2" height="1" fill="#000" shape-rendering="crispEdges"/><text x="1695.5" y="512.6" font-size="9" fill="#000" stroke="#000" stroke-width="0.15">130.935</text><rect x="1690" y="542" width="2" height="1" fill="#000" shape-rendering="crispEdges"/><text x="1695.5" y="545.6" font-size="9" fill="#000" stroke="#000" stroke-width="0.15">130.085</text><rect x="1690" y="575" width="2" height="1" fill="#000" shape-rendering="crispEdges"/><text x="1695.5" y="578.6" font-size="9" fill="#000" stroke="#000" stroke-width="0.15">129.235</text><text x="1693" y="591.4" font-size="9" fill="#000" stroke="#000" stroke-width="0.15">1.787</text><text x="1693" y="677.6999999999999" font-size="9" fill="#000" stroke="#000" stroke-width="0.15">0.00</text><text x="1693" y="747.4" font-size="9" fill="#000" stroke="#000" stroke-width="0.15">-1.471</text><rect x="1690" y="674" width="2" height="1" fill="#000" shape-rendering="crispEdges"/><text x="1693" y="763.4" font-size="9" fill="#000" stroke="#000" stroke-width="0.15">100</text><text x="1693" y="791.9" font-size="9" fill="#000" stroke="#000" stroke-width="0.15">80</text><text x="1693" y="842.9" font-size="9" fill="#000" stroke="#000" stroke-width="0.15">50</text><text x="1693" y="903.9" font-size="9" fill="#000" stroke="#000" stroke-width="0.15">15</text><text x="1693" y="922.9" font-size="9" fill="#000" stroke="#000" stroke-width="0.15">0</text><rect x="1691" y="308" width="41" height="11" fill="#000" shape-rendering="crispEdges"/><rect x="1691" y="263" width="41" height="11" fill="#FF0000" shape-rendering="crispEdges"/><text x="1695.5" y="271.6" font-size="9" fill="#fff" stroke="#fff" stroke-width="0.15">137.115</text><rect x="1691" y="286" width="41" height="11" fill="#FF0000" shape-rendering="crispEdges"/><text x="1695.5" y="294.6" font-size="9" fill="#fff" stroke="#fff" stroke-width="0.15">136.522</text><rect x="1691" y="310" width="41" height="11" fill="#32CD32" shape-rendering="crispEdges"/><text x="1695.5" y="318.6" font-size="9" fill="#fff" stroke="#fff" stroke-width="0.15">135.905</text><rect x="1691" y="334" width="41" height="11" fill="#0000FF" shape-rendering="crispEdges"/><text x="1695.5" y="342.6" font-size="9" fill="#fff" stroke="#fff" stroke-width="0.15">135.287</text><rect x="1691" y="355" width="41" height="11" fill="#0000FF" shape-rendering="crispEdges"/><text x="1695.5" y="363.6" font-size="9" fill="#fff" stroke="#fff" stroke-width="0.15">134.746</text><rect x="-1" y="927" width="1" height="3" fill="#000" shape-rendering="crispEdges"/><text x="-2.2" y="939.3" font-size="9.5" fill="#000" stroke="#000" stroke-width="0.15">3 Apr 2020</text><rect x="63" y="927" width="1" height="3" fill="#000" shape-rendering="crispEdges"/><text x="61.8" y="939.3" font-size="9.5" fill="#000" stroke="#000" stroke-width="0.15">19 Apr 2020</text><rect x="127" y="927" width="1" height="3" fill="#000" shape-rendering="crispEdges"/><text x="125.8" y="939.3" font-size="9.5" fill="#000" stroke="#000" stroke-width="0.15">28 Apr 2020</text><rect x="191" y="927" width="1" height="3" fill="#000" shape-rendering="crispEdges"/><text x="189.8" y="939.3" font-size="9.5" fill="#000" stroke="#000" stroke-width="0.15">7 May 2020</text><rect x="255" y="927" width="1" height="3" fill="#000" shape-rendering="crispEdges"/><text x="253.8" y="939.3" font-size="9.5" fill="#000" stroke="#000" stroke-width="0.15">17 May 2020</text><rect x="319" y="927" width="1" height="3" fill="#000" shape-rendering="crispEdges"/><text x="317.8" y="939.3" font-size="9.5" fill="#000" stroke="#000" stroke-width="0.15">26 May 2020</text><rect x="383" y="927" width="1" height="3" fill="#000" shape-rendering="crispEdges"/><text x="381.8" y="939.3" font-size="9.5" fill="#000" stroke="#000" stroke-width="0.15">4 Jun 2020</text><rect x="447" y="927" width="1" height="3" fill="#000" shape-rendering="crispEdges"/><text x="445.8" y="939.3" font-size="9.5" fill="#000" stroke="#000" stroke-width="0.15">14 Jun 2020</text><rect x="511" y="927" width="1" height="3" fill="#000" shape-rendering="crispEdges"/><text x="509.8" y="939.3" font-size="9.5" fill="#000" stroke="#000" stroke-width="0.15">23 Jun 2020</text><rect x="575" y="927" width="1" height="3" fill="#000" shape-rendering="crispEdges"/><text x="573.8" y="939.3" font-size="9.5" fill="#000" stroke="#000" stroke-width="0.15">2 Jul 2020</text><rect x="639" y="927" width="1" height="3" fill="#000" shape-rendering="crispEdges"/><text x="637.8" y="939.3" font-size="9.5" fill="#000" stroke="#000" stroke-width="0.15">12 Jul 2020</text><rect x="703" y="927" width="1" height="3" fill="#000" shape-rendering="crispEdges"/><text x="701.8" y="939.3" font-size="9.5" fill="#000" stroke="#000" stroke-width="0.15">21 Jul 2020</text><rect x="767" y="927" width="1" height="3" fill="#000" shape-rendering="crispEdges"/><text x="765.8" y="939.3" font-size="9.5" fill="#000" stroke="#000" stroke-width="0.15">30 Jul 2020</text><rect x="831" y="927" width="1" height="3" fill="#000" shape-rendering="crispEdges"/><text x="829.8" y="939.3" font-size="9.5" fill="#000" stroke="#000" stroke-width="0.15">9 Aug 2020</text><rect x="895" y="927" width="1" height="3" fill="#000" shape-rendering="crispEdges"/><text x="893.8" y="939.3" font-size="9.5" fill="#000" stroke="#000" stroke-width="0.15">18 Aug 2020</text><rect x="959" y="927" width="1" height="3" fill="#000" shape-rendering="crispEdges"/><text x="957.8" y="939.3" font-size="9.5" fill="#000" stroke="#000" stroke-width="0.15">27 Aug 2020</text><rect x="1023" y="927" width="1" height="3" fill="#000" shape-rendering="crispEdges"/><text x="1021.8" y="939.3" font-size="9.5" fill="#000" stroke="#000" stroke-width="0.15">6 Sep 2020</text><rect x="1087" y="927" width="1" height="3" fill="#000" shape-rendering="crispEdges"/><text x="1085.8" y="939.3" font-size="9.5" fill="#000" stroke="#000" stroke-width="0.15">15 Sep 2020</text><rect x="1151" y="927" width="1" height="3" fill="#000" shape-rendering="crispEdges"/><text x="1149.8" y="939.3" font-size="9.5" fill="#000" stroke="#000" stroke-width="0.15">24 Sep 2020</text><rect x="1215" y="927" width="1" height="3" fill="#000" shape-rendering="crispEdges"/><text x="1213.8" y="939.3" font-size="9.5" fill="#000" stroke="#000" stroke-width="0.15">4 Oct 2020</text><rect x="1279" y="927" width="1" height="3" fill="#000" shape-rendering="crispEdges"/><text x="1277.8" y="939.3" font-size="9.5" fill="#000" stroke="#000" stroke-width="0.15">13 Oct 2020</text><rect x="1343" y="927" width="1" height="3" fill="#000" shape-rendering="crispEdges"/><text x="1341.8" y="939.3" font-size="9.5" fill="#000" stroke="#000" stroke-width="0.15">22 Oct 2020</text><rect x="1407" y="927" width="1" height="3" fill="#000" shape-rendering="crispEdges"/><text x="1405.8" y="939.3" font-size="9.5" fill="#000" stroke="#000" stroke-width="0.15">1 Nov 2020</text><text x="3" y="592.5" font-size="9.4" fill="#000" id="macdl" stroke="#000" stroke-width="0.15">MACD(12,26,9) -0.2190 -0.2009</text><text x="3" y="764.5" font-size="9.3" fill="#000" id="rsil" stroke="#000" stroke-width="0.15">RSI(14) 48.5858</text><polygon points="1.8,36.2 9.2,36.2 5.5,31.6" fill="#000"/><text x="14" y="37" font-size="9.4" fill="#000" id="title" textLength="62.6" lengthAdjust="spacing" stroke="#000" stroke-width="0.15">GBPJPY-,Daily</text><text x="83.3" y="37" font-size="9.4" fill="#000" textLength="140.4" lengthAdjust="spacing" stroke="#000" stroke-width="0.15">135.365 136.278 135.051 135.986</text><polygon points="1446.6,26 1456.4,26 1451.5,31.2" fill="#C0C0C0"/>
<defs>
<linearGradient id="gb" x1="0" y1="0" x2="0" y2="1"><stop offset="0" stop-color="#3C3CE4"/><stop offset="0.5" stop-color="#1818CC"/><stop offset="1" stop-color="#0000A8"/></linearGradient>
<linearGradient id="gt" x1="0" y1="0" x2="0" y2="1"><stop offset="0" stop-color="#5858FF"/><stop offset="1" stop-color="#3A3AE2"/></linearGradient>
<linearGradient id="gg" x1="0" y1="0" x2="0" y2="1"><stop offset="0" stop-color="#F2F2F2"/><stop offset="0.35" stop-color="#E8E8E8"/><stop offset="0.4" stop-color="#DADADA"/><stop offset="1" stop-color="#D2D2D2"/></linearGradient>
</defs><g shape-rendering="crispEdges"><rect x="2" y="45" width="52" height="25" fill="#0000A8"/><rect x="3" y="46" width="50" height="24" fill="url(#gt)"/><rect x="169" y="45" width="52" height="25" fill="#0000A8"/><rect x="170" y="46" width="50" height="24" fill="url(#gt)"/><rect x="2" y="69" width="109" height="40" fill="#0000A8"/><rect x="3" y="70" width="108" height="39" fill="url(#gb)"/><rect x="3" y="69" width="50" height="1" fill="#3A3AE2"/><rect x="113" y="69" width="108" height="40" fill="#0000A8"/><rect x="113" y="70" width="107" height="39" fill="url(#gb)"/><rect x="170" y="69" width="50" height="1" fill="#3A3AE2"/><rect x="6" y="68" width="44" height="1" fill="#000090"/><rect x="6" y="69" width="44" height="1" fill="#7878F4"/><rect x="173" y="68" width="44" height="1" fill="#000090"/><rect x="173" y="69" width="44" height="1" fill="#7878F4"/><rect x="56" y="45" width="111" height="22" fill="#B4B4B4"/><rect x="57" y="46" width="109" height="20" fill="#fff"/><rect x="58" y="47" width="18" height="18" fill="url(#gg)"/><rect x="147" y="47" width="18" height="18" fill="url(#gg)"/><rect x="77" y="46" width="1" height="20" fill="#B4B4B4"/><rect x="145" y="46" width="1" height="20" fill="#B4B4B4"/></g><polygon points="64,54 69.4,54 66.7,57.2" fill="#4A5EC8"/><polygon points="153,57 158.4,57 155.7,53.8" fill="#4A5EC8"/><text x="14.8" y="61" font-size="12" fill="#fff" textLength="25" lengthAdjust="spacingAndGlyphs">SELL</text><text x="194.5" y="61" font-size="12" fill="#fff" text-anchor="middle">BUY</text><text x="142" y="60" font-size="12.5" fill="#000" text-anchor="end">1.00</text><text x="25.5" y="100" font-size="11.5" font-weight="bold" fill="#fff" textLength="20.5" lengthAdjust="spacingAndGlyphs">135</text><text x="50.2" y="100.2" font-size="34.6" fill="#fff" textLength="34" lengthAdjust="spacingAndGlyphs">98</text><text x="89.4" y="84.2" font-size="12" font-weight="bold" fill="#fff">6</text><text x="135.5" y="100" font-size="11.5" font-weight="bold" fill="#fff" textLength="20.5" lengthAdjust="spacingAndGlyphs">136</text><text x="161.6" y="100.2" font-size="34.6" fill="#fff" textLength="34" lengthAdjust="spacingAndGlyphs">16</text><text x="200.4" y="84.2" font-size="12" font-weight="bold" fill="#fff">1</text>
<defs>
<pattern id="chk" width="2" height="2" patternUnits="userSpaceOnUse"><rect width="2" height="2" fill="#F0F0F0"/><rect width="1" height="1" fill="#FFFFFF"/><rect x="1" y="1" width="1" height="1" fill="#FFFFFF"/></pattern>
<linearGradient id="gold" x1="0" y1="0" x2="1" y2="1"><stop offset="0" stop-color="#F8D860"/><stop offset="0.5" stop-color="#E0A820"/><stop offset="1" stop-color="#B07808"/></linearGradient>
<linearGradient id="gplus" x1="0" y1="0" x2="0" y2="1"><stop offset="0" stop-color="#50F050"/><stop offset="1" stop-color="#10A810"/></linearGradient>
<radialGradient id="lens" cx="0.4" cy="0.35" r="0.7"><stop offset="0" stop-color="#FFFFFF"/><stop offset="1" stop-color="#B8DCF4"/></radialGradient>
<linearGradient id="clk" x1="0" y1="0" x2="0" y2="1"><stop offset="0" stop-color="#3C9CF0"/><stop offset="1" stop-color="#0848B0"/></linearGradient>
<linearGradient id="cld" x1="0" y1="0" x2="0" y2="1"><stop offset="0" stop-color="#FFFFFF"/><stop offset="1" stop-color="#C0D0EC"/></linearGradient>
</defs><g shape-rendering="crispEdges"><rect x="0" y="0" width="1736" height="21" fill="#F0F0F0"/><rect x="326" y="0" width="23" height="19" fill="url(#chk)"/><rect x="477" y="0" width="24" height="19" fill="url(#chk)"/><rect x="505" y="0" width="24" height="19" fill="url(#chk)"/><rect x="665" y="0" width="24" height="19" fill="url(#chk)"/><rect x="1139" y="0" width="24" height="19" fill="url(#chk)"/><rect x="0" y="20" width="1736" height="1" fill="#E4E4E4"/><rect x="0" y="21" width="1736" height="1" fill="#ABABAB"/><rect x="0" y="22" width="1736" height="1" fill="#6A6A6A"/><rect x="50" y="0" width="1" height="19" fill="#A0A0A0"/><rect x="324" y="0" width="1" height="19" fill="#A0A0A0"/><rect x="381" y="0" width="1" height="19" fill="#A0A0A0"/><rect x="471" y="0" width="1" height="19" fill="#A0A0A0"/><rect x="476" y="0" width="1" height="19" fill="#A0A0A0"/><rect x="504" y="0" width="1" height="19" fill="#A0A0A0"/><rect x="533" y="0" width="1" height="19" fill="#A0A0A0"/><rect x="664" y="0" width="1" height="19" fill="#A0A0A0"/><rect x="721" y="0" width="1" height="19" fill="#A0A0A0"/><rect x="1138" y="0" width="1" height="19" fill="#A0A0A0"/><rect x="286" y="0" width="1" height="21" fill="#A0A0A0"/><rect x="287" y="0" width="1" height="21" fill="#FFFFFF"/><rect x="654" y="0" width="1" height="21" fill="#A0A0A0"/><rect x="655" y="0" width="1" height="21" fill="#FFFFFF"/><rect x="960" y="0" width="1" height="21" fill="#A0A0A0"/><rect x="961" y="0" width="1" height="21" fill="#FFFFFF"/><rect x="1221" y="0" width="1" height="21" fill="#A0A0A0"/><rect x="1222" y="0" width="1" height="21" fill="#FFFFFF"/><rect x="290" y="1" width="3" height="1" fill="#A8A8A8"/><rect x="290" y="3" width="3" height="1" fill="#A8A8A8"/><rect x="290" y="5" width="3" height="1" fill="#A8A8A8"/><rect x="290" y="7" width="3" height="1" fill="#A8A8A8"/><rect x="290" y="9" width="3" height="1" fill="#A8A8A8"/><rect x="290" y="11" width="3" height="1" fill="#A8A8A8"/><rect x="290" y="13" width="3" height="1" fill="#A8A8A8"/><rect x="290" y="15" width="3" height="1" fill="#A8A8A8"/><rect x="290" y="17" width="3" height="1" fill="#A8A8A8"/><rect x="658" y="1" width="3" height="1" fill="#A8A8A8"/><rect x="658" y="3" width="3" height="1" fill="#A8A8A8"/><rect x="658" y="5" width="3" height="1" fill="#A8A8A8"/><rect x="658" y="7" width="3" height="1" fill="#A8A8A8"/><rect x="658" y="9" width="3" height="1" fill="#A8A8A8"/><rect x="658" y="11" width="3" height="1" fill="#A8A8A8"/><rect x="658" y="13" width="3" height="1" fill="#A8A8A8"/><rect x="658" y="15" width="3" height="1" fill="#A8A8A8"/><rect x="658" y="17" width="3" height="1" fill="#A8A8A8"/><rect x="964" y="1" width="3" height="1" fill="#A8A8A8"/><rect x="964" y="3" width="3" height="1" fill="#A8A8A8"/><rect x="964" y="5" width="3" height="1" fill="#A8A8A8"/><rect x="964" y="7" width="3" height="1" fill="#A8A8A8"/><rect x="964" y="9" width="3" height="1" fill="#A8A8A8"/><rect x="964" y="11" width="3" height="1" fill="#A8A8A8"/><rect x="964" y="13" width="3" height="1" fill="#A8A8A8"/><rect x="964" y="15" width="3" height="1" fill="#A8A8A8"/><rect x="964" y="17" width="3" height="1" fill="#A8A8A8"/></g><rect x="-1" y="2.7" width="13" height="12.3" rx="1.5" fill="#fff" stroke="#3A80CC" stroke-width="1.4"/><rect x="2" y="3.9000000000000004" width="1.2" height="1.2" fill="#F03030"/><rect x="4" y="4.2" width="7" height="0.7" fill="#C8D8F8"/><rect x="2" y="5.9" width="1.2" height="1.2" fill="#404830"/><rect x="4" y="6.2" width="7" height="0.7" fill="#C8D8F8"/><rect x="2" y="7.9" width="1.2" height="1.2" fill="#404830"/><rect x="4" y="8.200000000000001" width="7" height="0.7" fill="#C8D8F8"/><rect x="2" y="9.9" width="1.2" height="1.2" fill="#F03030"/><rect x="4" y="10.200000000000001" width="7" height="0.7" fill="#C8D8F8"/><rect x="25.6" y="1.6" width="11.8" height="12.6" rx="1" fill="#fff" stroke="#B4A890" stroke-width="0.9"/><path d="M28 4v6M27 8h1M28 5h1M34 3.5v5M33 7h1M34 4.5h1" stroke="#606060" stroke-width="0.8" fill="none"/><line x1="37.3" y1="13.8" x2="42" y2="18" stroke="#C8A020" stroke-width="2.4" stroke-linecap="round"/><circle cx="33.2" cy="9.6" r="5" fill="#D0E4F8" fill-opacity="0.85" stroke="#5A8CD8" stroke-width="1"/><rect x="32" y="7.5" width="2" height="4.5" fill="#8098B8" opacity="0.7"/><path d="M60.6 1.6h8l3.5 3.5v9.8h-11.5z" fill="#fff" stroke="#808080" stroke-width="0.9"/><path d="M68.6 1.6v3.5h3.5" fill="#E8E8E8" stroke="#808080" stroke-width="0.7"/><path d="M62.5 4h2.5M62.5 6.8h5M62.5 9.2h5M62.5 11.6h3" stroke="#909090" stroke-width="0.9"/><path d="M68.2 7.4h4v3.6h3.6v4h-3.6v3.6h-4v-3.6h-3.6v-4h3.6z" fill="url(#gplus)" stroke="#109010" stroke-width="0.8"/><text x="78.6" y="12.6" font-size="12.2" fill="#000" stroke="#000" stroke-width="0.35" textLength="36.5" lengthAdjust="spacingAndGlyphs">新订单</text><path d="M132.9 2.1L142.9 9.3L135.6 16.4L127.1 11z" fill="url(#gold)" stroke="#B88418" stroke-width="0.8"/><path d="M127.1 11L135.6 16.4L142.9 9.3L143.1 10.6L135.7 17.6L127 12.2z" fill="#A86C10"/><path d="M157.5 2.5l4-1.5h6l1.2 1.5v8h-10z" fill="#2E9CF8" stroke="#1878E0" stroke-width="0.6"/><path d="M161.3 3v8" stroke="#D8F0FF" stroke-width="0.8"/><path d="M162.5 6.2l4.5-1" stroke="#E8F4FF" stroke-width="1"/><path d="M157.5 16.6a2.6 2.6 0 0 1 0.3-5.2a3.3 3.3 0 0 1 5.6-1.6a3 3 0 0 1 4.4 1.7a2.6 2.6 0 0 1 0.6 5.1z" fill="url(#cld)" stroke="#5A78B8" stroke-width="0.8"/><g fill="none" stroke-width="1.1"><path d="M190.7 1.4a7.5 7.5 0 1 0 0 15" stroke="#6C98E0" opacity="0.8"/><path d="M190.7 3.8a5.1 5.1 0 1 0 0 10.2" stroke="#4A80DC"/><path d="M190.7 1.4a7.5 7.5 0 0 1 0 15" stroke="#78B878" opacity="0.8"/><path d="M190.7 3.8a5.1 5.1 0 0 1 0 10.2" stroke="#58A858"/></g><path d="M190.7 8.9L198 8.9A7.4 7.4 0 0 1 190.7 16.4z" fill="#5CB85C" opacity="0.55"/><circle cx="190.7" cy="8.6" r="1.7" fill="#2858D0"/><rect x="190.2" y="9" width="1.1" height="7.8" fill="#18A018"/><path d="M211.5 7L224.5 7L221 15.5L217.5 16.5z" fill="#F4D848" stroke="#D0A820" stroke-width="0.6"/><ellipse cx="217.8" cy="5" rx="7.8" ry="2.4" fill="#5AA4E0" stroke="#3880C8" stroke-width="0.6"/><path d="M213.8 4.6a4 3.6 0 0 1 8 0z" fill="#6CB4EC" stroke="#3880C8" stroke-width="0.6"/><circle cx="222.3" cy="12.8" r="3.9" fill="#E82010" stroke="#B01008" stroke-width="0.6"/><rect x="220.8" y="11.3" width="3" height="3" fill="#fff"/><text x="231.7" y="12.6" font-size="12.2" fill="#000" stroke="#000" stroke-width="0.35" textLength="46.8" lengthAdjust="spacingAndGlyphs">自动交易</text><path d="M304.5 3.4v13.4M302 14.5h13.2" stroke="#585858" stroke-width="1.1" fill="none"/><path d="M302.9 5.4l1.6-2.4l1.6 2.4zM314 12.9l2.2 1.6l-2.2 1.6z" fill="#585858"/><path d="M310.5 4.4v8.6M310.5 5.3h2.4M308.3 11.4h2.2" stroke="#089008" stroke-width="1.1" fill="none"/><path d="M332.5 3.4v13.4M330 14.5h13.2" stroke="#585858" stroke-width="1.1" fill="none"/><path d="M330.9 5.4l1.6-2.4l1.6 2.4zM342 12.9l2.2 1.6l-2.2 1.6z" fill="#585858"/><rect x="338" y="1" width="1" height="12" fill="#089008"/><rect x="336.2" y="3.3" width="4.6" height="7.4" fill="#48E868" stroke="#08A008" stroke-width="0.8"/><path d="M360.5 3.4v13.4M358 14.5h13.2" stroke="#585858" stroke-width="1.1" fill="none"/><path d="M358.9 5.4l1.6-2.4l1.6 2.4zM370 12.9l2.2 1.6l-2.2 1.6z" fill="#585858"/><path d="M359.3 11.6C362 10 363.5 6.4 365.2 6.4S368.5 9.6 370.8 10.2" stroke="#28A028" stroke-width="1.1" fill="none"/><line x1="400.70000000000005" y1="11.8" x2="404.90000000000003" y2="15.8" stroke="#D8B020" stroke-width="2.8" stroke-linecap="round"/><line x1="400.90000000000003" y1="12" x2="404.70000000000005" y2="15.6" stroke="#F8E070" stroke-width="0.8"/><circle cx="396.1" cy="6.9" r="5.6" fill="url(#lens)" stroke="#4A90DC" stroke-width="1.1"/><rect x="392.8" y="6" width="6.6" height="1.9" fill="#4A90C8"/><rect x="395.15000000000003" y="3.6" width="1.9" height="6.6" fill="#4A90C8"/><line x1="428.6" y1="11.8" x2="432.8" y2="15.8" stroke="#D8B020" stroke-width="2.8" stroke-linecap="round"/><line x1="428.8" y1="12" x2="432.6" y2="15.6" stroke="#F8E070" stroke-width="0.8"/><circle cx="424" cy="6.9" r="5.6" fill="url(#lens)" stroke="#4A90DC" stroke-width="1.1"/><rect x="420.7" y="6" width="6.6" height="1.9" fill="#4A90C8"/><rect x="446.2" y="1.2" width="7.6" height="7.6" rx="0.8" fill="#3A9A1A"/><rect x="446.8" y="3.4000000000000004" width="6.4" height="4.8" fill="#58B830"/><rect x="447.59999999999997" y="4.8" width="4.8" height="3" fill="#fff"/><rect x="448.2" y="5.6000000000000005" width="3.6" height="0.8" fill="#58B830" opacity="0.6"/><rect x="454.2" y="1.2" width="7.6" height="7.6" rx="0.8" fill="#2048C0"/><rect x="454.8" y="3.4000000000000004" width="6.4" height="4.8" fill="#3868E0"/><rect x="455.59999999999997" y="4.8" width="4.8" height="3" fill="#fff"/><rect x="456.2" y="5.6000000000000005" width="3.6" height="0.8" fill="#3868E0" opacity="0.6"/><rect x="446.2" y="9.2" width="7.6" height="7.6" rx="0.8" fill="#2048C0"/><rect x="446.8" y="11.399999999999999" width="6.4" height="4.8" fill="#3868E0"/><rect x="447.59999999999997" y="12.799999999999999" width="4.8" height="3" fill="#fff"/><rect x="448.2" y="13.6" width="3.6" height="0.8" fill="#3868E0" opacity="0.6"/><rect x="454.2" y="9.2" width="7.6" height="7.6" rx="0.8" fill="#3A9A1A"/><rect x="454.8" y="11.399999999999999" width="6.4" height="4.8" fill="#58B830"/><rect x="455.59999999999997" y="12.799999999999999" width="4.8" height="3" fill="#fff"/><rect x="456.2" y="13.6" width="3.6" height="0.8" fill="#58B830" opacity="0.6"/><path d="M484.5 3.4v13.4M482 14.5h13.2" stroke="#585858" stroke-width="1.1" fill="none"/><path d="M482.9 5.4l1.6-2.4l1.6 2.4zM494 12.9l2.2 1.6l-2.2 1.6z" fill="#585858"/><path d="M489 5.2l3.8 3.3l-3.8 3.3z" fill="#58E068" stroke="#189018" stroke-width="0.8"/><path d="M512.5 3.4v13.4M510 14.5h13.2" stroke="#585858" stroke-width="1.1" fill="none"/><path d="M510.9 5.4l1.6-2.4l1.6 2.4zM522 12.9l2.2 1.6l-2.2 1.6z" fill="#585858"/><rect x="518" y="3.2" width="1.2" height="9.8" fill="#1870B0"/><path d="M519.6 8.4l3-2.2v1.6h1.6v1.2h-1.6v1.6z" fill="#E04808"/><path d="M543.4 1.6h8l3.5 3.5v9.8h-11.5z" fill="#fff" stroke="#808080" stroke-width="0.9"/><path d="M551.4 1.6v3.5h3.5" fill="#E8E8E8" stroke="#808080" stroke-width="0.7"/><path d="M546.5 5v7M546.5 6h1.5M545 10.5h1.5" stroke="#707070" stroke-width="0.9" fill="none"/><path d="M551 7.4h4v3.6h3.6v4h-3.6v3.6h-4v-3.6h-3.6v-4h3.6z" fill="url(#gplus)" stroke="#109010" stroke-width="0.8"/><path d="M565.2 8l5.4 0l-2.7 3.1z" fill="#000"/><circle cx="589" cy="8.9" r="7.6" fill="url(#clk)" stroke="#0848A8" stroke-width="0.6"/><circle cx="589" cy="8.9" r="5.3" fill="#F8FBFF"/><path d="M588.8 5.4v3.6h2.6" stroke="#202020" stroke-width="1.1" fill="none"/><path d="M603.8 8l5.4 0l-2.7 3.1z" fill="#000"/><rect x="620.4" y="2.2" width="15.2" height="13.4" rx="0.8" fill="#fff" stroke="#3C78C8" stroke-width="0.9"/><rect x="620.8" y="2.6" width="14.4" height="2.2" fill="#4C8CDC"/><rect x="620.8" y="9.6" width="14.4" height="0.9" fill="#3C78C8"/><path d="M622.4 8.4h1.8l1.2-1.2h1.4l1-0.8 1.4 0.8h1.6l1.2-0.9h1.6" stroke="#A01808" stroke-width="1" fill="none"/><path d="M623 13.6h1.4l1.2-0.8 1.4 0.8h1.2l1.6-2 1.2 0.6 1.4 1.6" stroke="#109020" stroke-width="1" fill="none"/><path d="M642.8 8l5.4 0l-2.7 3.1z" fill="#000"/><path d="M672.2 2.2l7.6 7.1l-3.6 0.5l2.6 5l-1.6 0.8l-2.5-5.1l-2.5 2.5z" fill="#505050"/><path d="M704.6 2.2v5.7M704.6 10.9v5.9M697.1 9.4h6M706.1 9.4h6" stroke="#484848" stroke-width="1.2" fill="none"/><path d="M738.5 3.2v12.6M761 9.4h12.2M789 15.6L801 3.7" stroke="#484848" stroke-width="1.1" fill="none"/><path d="M814.6 10.8L823 3.2M819.6 15.6L828.8 7.2" stroke="#484848" stroke-width="0.9" fill="none"/><path d="M816 13.5l1-5.5l1.5 4l1.5-6l1.5 4.5l1.5-6.5l1.5 4.5l1-6" stroke="#484848" stroke-width="0.9" fill="none"/><text x="825.8" y="17.9" font-size="6.6" font-weight="bold" fill="#404040">E</text><line x1="844" y1="2.5" x2="857.2" y2="2.5" stroke="#484848" stroke-width="1" stroke-dasharray="1 0.95"/><line x1="844" y1="5.4" x2="857.2" y2="5.4" stroke="#484848" stroke-width="1" stroke-dasharray="1 0.95"/><line x1="844" y1="9.4" x2="857.2" y2="9.4" stroke="#484848" stroke-width="1" stroke-dasharray="1 0.95"/><line x1="844" y1="13.4" x2="853.4" y2="13.4" stroke="#484848" stroke-width="1" stroke-dasharray="1 0.95"/><text x="853.8" y="18" font-size="6.6" font-weight="bold" fill="#404040">F</text><text x="874.6" y="13.9" font-size="12.4" font-weight="bold" fill="#505050" textLength="8.2" lengthAdjust="spacingAndGlyphs">A</text><rect x="901.5" y="3.6" width="11" height="11.8" fill="none" stroke="#484848" stroke-width="1" stroke-dasharray="1 1"/><text x="902.8" y="13.9" font-size="11" font-weight="bold" fill="#505050" textLength="8.2" lengthAdjust="spacingAndGlyphs">T</text><path d="M928.2 7.1l3.2-3.9l3.2 3.9zM935.4 11.5l3.2 4.2l3.2-4.2z" fill="#484848"/><path d="M930.4 10.4l2 2.3l4.4-5.4" stroke="#484848" stroke-width="1.3" fill="none"/><path d="M948.8 8l5.4 0l-2.7 3.1z" fill="#000"/><text x="975.7" y="13" font-size="10.2" fill="#383838" stroke="#383838" stroke-width="0.25" textLength="12.5" lengthAdjust="spacingAndGlyphs">M1</text><text x="1003.9" y="13" font-size="10.2" fill="#383838" stroke="#383838" stroke-width="0.25" textLength="12.3" lengthAdjust="spacingAndGlyphs">M5</text><text x="1029.6" y="13" font-size="10.2" fill="#383838" stroke="#383838" stroke-width="0.25" textLength="17.6" lengthAdjust="spacingAndGlyphs">M15</text><text x="1057.9" y="13" font-size="10.2" fill="#383838" stroke="#383838" stroke-width="0.25" textLength="17.6" lengthAdjust="spacingAndGlyphs">M30</text><text x="1088.6" y="13" font-size="10.2" fill="#383838" stroke="#383838" stroke-width="0.25" textLength="11.5" lengthAdjust="spacingAndGlyphs">H1</text><text x="1115.7" y="13" font-size="10.2" fill="#383838" stroke="#383838" stroke-width="0.25" textLength="12.3" lengthAdjust="spacingAndGlyphs">H4</text><text x="1144.6" y="13" font-size="10.2" fill="#383838" stroke="#383838" stroke-width="0.25" textLength="11.6" lengthAdjust="spacingAndGlyphs">D1</text><text x="1172.1" y="13" font-size="10.2" fill="#383838" stroke="#383838" stroke-width="0.25" textLength="14" lengthAdjust="spacingAndGlyphs">W1</text><text x="1198.6" y="13" font-size="10.2" fill="#383838" stroke="#383838" stroke-width="0.25" textLength="14.7" lengthAdjust="spacingAndGlyphs">MN</text><line x1="1688.6" y1="9.4" x2="1684" y2="13.8" stroke="#1E50D0" stroke-width="2.6" stroke-linecap="round"/><circle cx="1691.4" cy="6.5" r="3.8" fill="#F4F6FF" stroke="#1E5AE0" stroke-width="1.3"/><path d="M1724.1 1.4c3.6 0 6.4 2 6.4 4.6c0 1.6-1 3-2.6 3.8l0.6 2.4l-2.6-1.7c-0.6 0.1-1.2 0.1-1.8 0.1c-3.6 0-6.4-2-6.4-4.6s2.800-4.600 6.400-4.600z" fill="#F6F6FA" stroke="#989898" stroke-width="0.8"/><path d="M1715.2 6.5c2.6 0 4.600 1.700 4.600 3.900s-2 3.900-4.600 3.900c-0.500 0-1-0.100-1.500-0.200l-2.200 1.600l0.400-2.400c-0.800-0.700-1.300-1.700-1.300-2.900c0-2.200 2-3.900 4.600-3.900z" fill="#F6F6FA" stroke="#989898" stroke-width="0.8"/>
</svg>
</body></html>
